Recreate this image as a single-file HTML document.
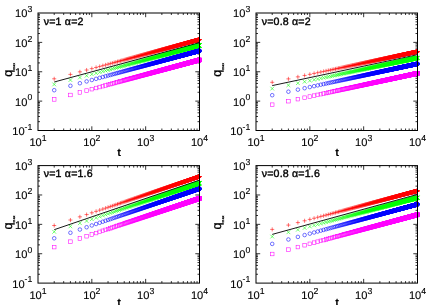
<!DOCTYPE html>
<html><head><meta charset="utf-8"><title>plot</title>
<style>html,body{margin:0;padding:0;background:#fff;overflow:hidden}svg{display:block;filter:blur(0.3px);font-family:"Liberation Sans",sans-serif}text{stroke:#000;stroke-width:0.12px}</style></head>
<body>
<svg width="436" height="305" viewBox="0 0 436 305" text-rendering="geometricPrecision">
<rect width="436" height="305" fill="#fff"/>
<defs>
<marker id="mp" markerWidth="8" markerHeight="8" refX="4" refY="4" markerUnits="userSpaceOnUse" overflow="visible"><g transform="translate(4 4)"><path d="M-2.05 0H2.05M0 -2.05V2.05" stroke="#f00" stroke-width="0.55" fill="none"/></g></marker>
<marker id="mx" markerWidth="8" markerHeight="8" refX="4" refY="4" markerUnits="userSpaceOnUse" overflow="visible"><g transform="translate(4 4)"><path d="M-1.85 -1.85L1.85 1.85M-1.85 1.85L1.85 -1.85" stroke="#0f0" stroke-width="0.55" fill="none"/></g></marker>
<marker id="mo" markerWidth="8" markerHeight="8" refX="4" refY="4" markerUnits="userSpaceOnUse" overflow="visible"><g transform="translate(4 4)"><circle r="1.8" stroke="#00f" stroke-width="0.55" fill="none"/></g></marker>
<marker id="ms" markerWidth="8" markerHeight="8" refX="4" refY="4" markerUnits="userSpaceOnUse" overflow="visible"><g transform="translate(4 4)"><rect x="-1.8" y="-1.8" width="3.6" height="3.6" stroke="#f0f" stroke-width="0.55" fill="none"/></g></marker>
</defs>
<g>
<path d="M54.21 130.5v-2M54.21 13v2M63.69 130.5v-2M63.69 13v2M70.41 130.5v-2M70.41 13v2M75.63 130.5v-2M75.63 13v2M79.89 130.5v-2M79.89 13v2M83.49 130.5v-2M83.49 13v2M86.62 130.5v-2M86.62 13v2M89.37 130.5v-2M89.37 13v2M91.83 130.5v-4.2M91.83 13v4.2M108.04 130.5v-2M108.04 13v2M117.52 130.5v-2M117.52 13v2M124.24 130.5v-2M124.24 13v2M129.46 130.5v-2M129.46 13v2M133.72 130.5v-2M133.72 13v2M137.33 130.5v-2M137.33 13v2M140.45 130.5v-2M140.45 13v2M143.2 130.5v-2M143.2 13v2M145.67 130.5v-4.2M145.67 13v4.2M161.87 130.5v-2M161.87 13v2M171.35 130.5v-2M171.35 13v2M178.08 130.5v-2M178.08 13v2M183.29 130.5v-2M183.29 13v2M187.56 130.5v-2M187.56 13v2M191.16 130.5v-2M191.16 13v2M194.28 130.5v-2M194.28 13v2M197.04 130.5v-2M197.04 13v2M38 121.66h2M199.5 121.66h-2M38 116.48h2M199.5 116.48h-2M38 112.81h2M199.5 112.81h-2M38 109.97h2M199.5 109.97h-2M38 107.64h2M199.5 107.64h-2M38 105.68h2M199.5 105.68h-2M38 103.97h2M199.5 103.97h-2M38 102.47h2M199.5 102.47h-2M38 101.12h4.2M199.5 101.12h-4.2M38 92.28h2M199.5 92.28h-2M38 87.11h2M199.5 87.11h-2M38 83.44h2M199.5 83.44h-2M38 80.59h2M199.5 80.59h-2M38 78.27h2M199.5 78.27h-2M38 76.3h2M199.5 76.3h-2M38 74.6h2M199.5 74.6h-2M38 73.09h2M199.5 73.09h-2M38 71.75h4.2M199.5 71.75h-4.2M38 62.91h2M199.5 62.91h-2M38 57.73h2M199.5 57.73h-2M38 54.06h2M199.5 54.06h-2M38 51.22h2M199.5 51.22h-2M38 48.89h2M199.5 48.89h-2M38 46.93h2M199.5 46.93h-2M38 45.22h2M199.5 45.22h-2M38 43.72h2M199.5 43.72h-2M38 42.38h4.2M199.5 42.38h-4.2M38 33.53h2M199.5 33.53h-2M38 28.36h2M199.5 28.36h-2M38 24.69h2M199.5 24.69h-2M38 21.84h2M199.5 21.84h-2M38 19.52h2M199.5 19.52h-2M38 17.55h2M199.5 17.55h-2M38 15.85h2M199.5 15.85h-2M38 14.34h2M199.5 14.34h-2" stroke="#000" stroke-width="0.8" fill="none"/>
<polyline points="54.21,78.8 70.41,74.42 79.89,71.85 86.62,70.03 91.83,68.62 96.1,67.47 99.7,66.49 102.82,65.65 105.58,64.91 108.04,64.24 110.27,63.64 112.3,63.09 114.17,62.58 115.91,62.11 117.52,61.67 119.03,61.27 120.44,60.88 121.78,60.52 123.05,60.18 124.24,59.86 125.38,59.55 126.47,59.25 127.51,58.97 128.51,58.7 129.46,58.44 130.38,58.2 131.26,57.96 132.11,57.73 132.93,57.51 133.72,57.29 134.49,57.08 135.23,56.88 135.95,56.69 136.65,56.5 137.33,56.32 137.99,56.14 138.63,55.97 139.25,55.8 139.86,55.63 140.45,55.47 141.03,55.32 141.59,55.16 142.14,55.01 142.68,54.87 143.2,54.73 143.72,54.59 144.22,54.45 144.71,54.32 145.19,54.19 145.67,54.06 146.13,53.94 146.58,53.81 147.03,53.69 147.47,53.57 147.89,53.46 148.32,53.34 148.73,53.23 149.14,53.12 149.54,53.01 149.93,52.91 150.32,52.8 150.7,52.7 151.07,52.6 151.44,52.5 151.8,52.4 152.16,52.31 152.51,52.21 152.86,52.12 153.2,52.02 153.53,51.93 153.86,51.84 154.19,51.76 154.51,51.67 154.83,51.58 155.15,51.5 155.46,51.41 155.76,51.33 156.06,51.25 156.36,51.17 156.66,51.09 156.95,51.01 157.23,50.93 157.52,50.86 157.8,50.78 158.07,50.71 158.35,50.63 158.62,50.56 158.88,50.49 159.15,50.41 159.41,50.34 159.67,50.27 159.92,50.21 160.18,50.14 160.43,50.07 160.67,50 160.92,49.94 161.16,49.87 161.4,49.81 161.64,49.74 161.87,49.68 162.1,49.61 162.34,49.55 162.56,49.49 162.79,49.43 163.01,49.37 163.23,49.31 163.45,49.25 163.67,49.19 163.89,49.13 164.1,49.08 164.31,49.02 164.52,48.96 164.73,48.9 164.94,48.85 165.14,48.79 165.34,48.74 165.54,48.68 165.74,48.63 165.94,48.58 166.13,48.52 166.33,48.47 166.52,48.42 166.71,48.37 166.9,48.32 167.09,48.27 167.28,48.22 167.46,48.17 167.64,48.12 167.83,48.07 168.01,48.02 168.19,47.97 168.36,47.92 168.54,47.87 168.71,47.83 168.89,47.78 169.06,47.73 169.23,47.69 169.4,47.64 169.57,47.6 169.74,47.55 169.91,47.5 170.07,47.46 170.23,47.42 170.4,47.37 170.56,47.33 170.72,47.28 170.88,47.24 171.04,47.2 171.2,47.16 171.35,47.11 171.51,47.07 171.66,47.03 171.81,46.99 171.97,46.95 172.12,46.91 172.27,46.87 172.42,46.83 172.57,46.79 172.71,46.75 172.86,46.71 173.01,46.67 173.15,46.63 173.29,46.59 173.44,46.55 173.58,46.51 173.72,46.47 173.86,46.43 174,46.4 174.14,46.36 174.28,46.32 174.42,46.29 174.55,46.25 174.69,46.21 174.82,46.18 174.96,46.14 175.09,46.1 175.22,46.07 175.35,46.03 175.48,46 175.61,45.96 175.74,45.93 175.87,45.89 176,45.86 176.13,45.82 176.25,45.79 176.38,45.75 176.51,45.72 176.63,45.69 176.75,45.65 176.88,45.62 177,45.59 177.12,45.55 177.24,45.52 177.37,45.49 177.49,45.45 177.61,45.42 177.72,45.39 177.84,45.36 177.96,45.33 178.08,45.29 178.19,45.26 178.31,45.23 178.43,45.2 178.54,45.17 178.65,45.14 178.77,45.11 178.88,45.08 178.99,45.05 179.11,45.02 179.22,44.99 179.33,44.96 179.44,44.93 179.55,44.9 179.66,44.87 179.77,44.84 179.88,44.81 179.98,44.78 180.09,44.75 180.2,44.72 180.31,44.69 180.41,44.66 180.52,44.63 180.62,44.61 180.73,44.58 180.83,44.55 180.93,44.52 181.04,44.49 181.14,44.47 181.24,44.44 181.35,44.41 181.45,44.38 181.55,44.36 181.65,44.33 181.75,44.3 181.85,44.27 181.95,44.25 182.05,44.22 182.14,44.19 182.24,44.17 182.34,44.14 182.44,44.12 182.53,44.09 182.63,44.06 182.73,44.04 182.82,44.01 182.92,43.99 183.01,43.96 183.11,43.93 183.2,43.91 183.29,43.88 183.39,43.86 183.48,43.83 183.57,43.81 183.67,43.78 183.76,43.76 183.85,43.73 183.94,43.71 184.03,43.68 184.12,43.66 184.21,43.64 184.3,43.61 184.39,43.59 184.48,43.56 184.57,43.54 184.66,43.51 184.74,43.49 184.83,43.47 184.92,43.44 185.01,43.42 185.09,43.4 185.18,43.37 185.27,43.35 185.35,43.33 185.44,43.3 185.52,43.28 185.61,43.26 185.69,43.23 185.78,43.21 185.86,43.19 185.94,43.17 186.03,43.14 186.11,43.12 186.19,43.1 186.28,43.08 186.36,43.05 186.44,43.03 186.52,43.01 186.6,42.99 186.68,42.97 186.76,42.94 186.85,42.92 186.93,42.9 187.01,42.88 187.08,42.86 187.16,42.84 187.24,42.82 187.32,42.79 187.4,42.77 187.48,42.75 187.56,42.73 187.63,42.71 187.71,42.69 187.79,42.67 187.87,42.65 187.94,42.63 188.02,42.61 188.1,42.58 188.17,42.56 188.25,42.54 188.32,42.52 188.4,42.5 188.47,42.48 188.55,42.46 188.62,42.44 188.7,42.42 188.77,42.4 188.85,42.38 188.92,42.36 188.99,42.34 189.07,42.32 189.14,42.3 189.21,42.28 189.28,42.26 189.36,42.24 189.43,42.22 189.5,42.2 189.57,42.19 189.64,42.17 189.71,42.15 189.79,42.13 189.86,42.11 189.93,42.09 190,42.07 190.07,42.05 190.14,42.03 190.21,42.01 190.28,41.99 190.35,41.98 190.41,41.96 190.48,41.94 190.55,41.92 190.62,41.9 190.69,41.88 190.76,41.86 190.82,41.85 190.89,41.83 190.96,41.81 191.03,41.79 191.09,41.77 191.16,41.76 191.23,41.74 191.29,41.72 191.36,41.7 191.43,41.68 191.49,41.67 191.56,41.65 191.62,41.63 191.69,41.61 191.75,41.59 191.82,41.58 191.88,41.56 191.95,41.54 192.01,41.52 192.08,41.51 192.14,41.49 192.21,41.47 192.27,41.46 192.33,41.44 192.4,41.42 192.46,41.4 192.52,41.39 192.59,41.37 192.65,41.35 192.71,41.34 192.77,41.32 192.84,41.3 192.9,41.29 192.96,41.27 193.02,41.25 193.08,41.24 193.15,41.22 193.21,41.2 193.27,41.19 193.33,41.17 193.39,41.15 193.45,41.14 193.51,41.12 193.57,41.1 193.63,41.09 193.69,41.07 193.75,41.06 193.81,41.04 193.87,41.02 193.93,41.01 193.99,40.99 194.05,40.97 194.11,40.96 194.17,40.94 194.22,40.93 194.28,40.91 194.34,40.9 194.4,40.88 194.46,40.86 194.52,40.85 194.57,40.83 194.63,40.82 194.69,40.8 194.75,40.79 194.8,40.77 194.86,40.75 194.92,40.74 194.97,40.72 195.03,40.71 195.09,40.69 195.14,40.68 195.2,40.66 195.26,40.65 195.31,40.63 195.37,40.62 195.42,40.6 195.48,40.59 195.53,40.57 195.59,40.56 195.65,40.54 195.7,40.53 195.76,40.51 195.81,40.5 195.86,40.48 195.92,40.47 195.97,40.45 196.03,40.44 196.08,40.42 196.14,40.41 196.19,40.4 196.24,40.38 196.3,40.37 196.35,40.35 196.4,40.34 196.46,40.32 196.51,40.31 196.56,40.29 196.62,40.28 196.67,40.27 196.72,40.25 196.78,40.24 196.83,40.22 196.88,40.21 196.93,40.19 196.98,40.18 197.04,40.17 197.09,40.15 197.14,40.14 197.19,40.12 197.24,40.11 197.3,40.1 197.35,40.08 197.4,40.07 197.45,40.05 197.5,40.04 197.55,40.03 197.6,40.01 197.65,40 197.7,39.99 197.75,39.97 197.8,39.96 197.85,39.95 197.9,39.93 197.95,39.92 198,39.9 198.05,39.89 198.1,39.88 198.15,39.86 198.2,39.85 198.25,39.84 198.3,39.82 198.35,39.81 198.4,39.8 198.45,39.78 198.5,39.77 198.55,39.76 198.59,39.74 198.64,39.73 198.69,39.72 198.74,39.71 198.79,39.69 198.84,39.68 198.88,39.67 198.93,39.65 198.98,39.64 199.03,39.63 199.08,39.61 199.12,39.6 199.17,39.59 199.22,39.58 199.27,39.56 199.31,39.55 199.36,39.54 199.41,39.53 199.45,39.51 199.5,39.5" fill="none" stroke="none" marker-start="url(#mp)" marker-mid="url(#mp)" marker-end="url(#mp)"/>
<polyline points="54.21,84.4 70.41,80.05 79.89,77.51 86.62,75.7 91.83,74.3 96.1,73.16 99.7,72.19 102.82,71.35 105.58,70.61 108.04,69.95 110.27,69.35 112.3,68.81 114.17,68.3 115.91,67.84 117.52,67.41 119.03,67 120.44,66.62 121.78,66.26 123.05,65.92 124.24,65.6 125.38,65.29 126.47,65 127.51,64.72 128.51,64.46 129.46,64.2 130.38,63.95 131.26,63.72 132.11,63.49 132.93,63.27 133.72,63.06 134.49,62.85 135.23,62.65 135.95,62.46 136.65,62.27 137.33,62.09 137.99,61.91 138.63,61.74 139.25,61.57 139.86,61.41 140.45,61.25 141.03,61.1 141.59,60.94 142.14,60.8 142.68,60.65 143.2,60.51 143.72,60.37 144.22,60.24 144.71,60.11 145.19,59.98 145.67,59.85 146.13,59.73 146.58,59.6 147.03,59.48 147.47,59.37 147.89,59.25 148.32,59.14 148.73,59.03 149.14,58.92 149.54,58.81 149.93,58.71 150.32,58.6 150.7,58.5 151.07,58.4 151.44,58.3 151.8,58.2 152.16,58.11 152.51,58.01 152.86,57.92 153.2,57.83 153.53,57.74 153.86,57.65 154.19,57.56 154.51,57.48 154.83,57.39 155.15,57.31 155.46,57.22 155.76,57.14 156.06,57.06 156.36,56.98 156.66,56.9 156.95,56.82 157.23,56.75 157.52,56.67 157.8,56.59 158.07,56.52 158.35,56.45 158.62,56.37 158.88,56.3 159.15,56.23 159.41,56.16 159.67,56.09 159.92,56.02 160.18,55.96 160.43,55.89 160.67,55.82 160.92,55.76 161.16,55.69 161.4,55.63 161.64,55.56 161.87,55.5 162.1,55.44 162.34,55.38 162.56,55.31 162.79,55.25 163.01,55.19 163.23,55.13 163.45,55.08 163.67,55.02 163.89,54.96 164.1,54.9 164.31,54.85 164.52,54.79 164.73,54.73 164.94,54.68 165.14,54.62 165.34,54.57 165.54,54.51 165.74,54.46 165.94,54.41 166.13,54.36 166.33,54.3 166.52,54.25 166.71,54.2 166.9,54.15 167.09,54.1 167.28,54.05 167.46,54 167.64,53.95 167.83,53.9 168.01,53.85 168.19,53.81 168.36,53.76 168.54,53.71 168.71,53.66 168.89,53.62 169.06,53.57 169.23,53.52 169.4,53.48 169.57,53.43 169.74,53.39 169.91,53.34 170.07,53.3 170.23,53.26 170.4,53.21 170.56,53.17 170.72,53.13 170.88,53.08 171.04,53.04 171.2,53 171.35,52.96 171.51,52.91 171.66,52.87 171.81,52.83 171.97,52.79 172.12,52.75 172.27,52.71 172.42,52.67 172.57,52.63 172.71,52.59 172.86,52.55 173.01,52.51 173.15,52.47 173.29,52.43 173.44,52.4 173.58,52.36 173.72,52.32 173.86,52.28 174,52.24 174.14,52.21 174.28,52.17 174.42,52.13 174.55,52.1 174.69,52.06 174.82,52.02 174.96,51.99 175.09,51.95 175.22,51.92 175.35,51.88 175.48,51.85 175.61,51.81 175.74,51.78 175.87,51.74 176,51.71 176.13,51.67 176.25,51.64 176.38,51.61 176.51,51.57 176.63,51.54 176.75,51.51 176.88,51.47 177,51.44 177.12,51.41 177.24,51.37 177.37,51.34 177.49,51.31 177.61,51.28 177.72,51.25 177.84,51.21 177.96,51.18 178.08,51.15 178.19,51.12 178.31,51.09 178.43,51.06 178.54,51.03 178.65,51 178.77,50.96 178.88,50.93 178.99,50.9 179.11,50.87 179.22,50.84 179.33,50.81 179.44,50.78 179.55,50.76 179.66,50.73 179.77,50.7 179.88,50.67 179.98,50.64 180.09,50.61 180.2,50.58 180.31,50.55 180.41,50.52 180.52,50.5 180.62,50.47 180.73,50.44 180.83,50.41 180.93,50.38 181.04,50.36 181.14,50.33 181.24,50.3 181.35,50.27 181.45,50.25 181.55,50.22 181.65,50.19 181.75,50.16 181.85,50.14 181.95,50.11 182.05,50.08 182.14,50.06 182.24,50.03 182.34,50.01 182.44,49.98 182.53,49.95 182.63,49.93 182.73,49.9 182.82,49.88 182.92,49.85 183.01,49.83 183.11,49.8 183.2,49.78 183.29,49.75 183.39,49.72 183.48,49.7 183.57,49.68 183.67,49.65 183.76,49.63 183.85,49.6 183.94,49.58 184.03,49.55 184.12,49.53 184.21,49.5 184.3,49.48 184.39,49.46 184.48,49.43 184.57,49.41 184.66,49.38 184.74,49.36 184.83,49.34 184.92,49.31 185.01,49.29 185.09,49.27 185.18,49.24 185.27,49.22 185.35,49.2 185.44,49.17 185.52,49.15 185.61,49.13 185.69,49.11 185.78,49.08 185.86,49.06 185.94,49.04 186.03,49.02 186.11,48.99 186.19,48.97 186.28,48.95 186.36,48.93 186.44,48.91 186.52,48.88 186.6,48.86 186.68,48.84 186.76,48.82 186.85,48.8 186.93,48.78 187.01,48.75 187.08,48.73 187.16,48.71 187.24,48.69 187.32,48.67 187.4,48.65 187.48,48.63 187.56,48.61 187.63,48.58 187.71,48.56 187.79,48.54 187.87,48.52 187.94,48.5 188.02,48.48 188.1,48.46 188.17,48.44 188.25,48.42 188.32,48.4 188.4,48.38 188.47,48.36 188.55,48.34 188.62,48.32 188.7,48.3 188.77,48.28 188.85,48.26 188.92,48.24 188.99,48.22 189.07,48.2 189.14,48.18 189.21,48.16 189.28,48.14 189.36,48.12 189.43,48.1 189.5,48.08 189.57,48.06 189.64,48.05 189.71,48.03 189.79,48.01 189.86,47.99 189.93,47.97 190,47.95 190.07,47.93 190.14,47.91 190.21,47.89 190.28,47.88 190.35,47.86 190.41,47.84 190.48,47.82 190.55,47.8 190.62,47.78 190.69,47.77 190.76,47.75 190.82,47.73 190.89,47.71 190.96,47.69 191.03,47.67 191.09,47.66 191.16,47.64 191.23,47.62 191.29,47.6 191.36,47.58 191.43,47.57 191.49,47.55 191.56,47.53 191.62,47.51 191.69,47.5 191.75,47.48 191.82,47.46 191.88,47.44 191.95,47.43 192.01,47.41 192.08,47.39 192.14,47.37 192.21,47.36 192.27,47.34 192.33,47.32 192.4,47.31 192.46,47.29 192.52,47.27 192.59,47.26 192.65,47.24 192.71,47.22 192.77,47.21 192.84,47.19 192.9,47.17 192.96,47.16 193.02,47.14 193.08,47.12 193.15,47.11 193.21,47.09 193.27,47.07 193.33,47.06 193.39,47.04 193.45,47.02 193.51,47.01 193.57,46.99 193.63,46.98 193.69,46.96 193.75,46.94 193.81,46.93 193.87,46.91 193.93,46.9 193.99,46.88 194.05,46.86 194.11,46.85 194.17,46.83 194.22,46.82 194.28,46.8 194.34,46.78 194.4,46.77 194.46,46.75 194.52,46.74 194.57,46.72 194.63,46.71 194.69,46.69 194.75,46.68 194.8,46.66 194.86,46.65 194.92,46.63 194.97,46.61 195.03,46.6 195.09,46.58 195.14,46.57 195.2,46.55 195.26,46.54 195.31,46.52 195.37,46.51 195.42,46.49 195.48,46.48 195.53,46.46 195.59,46.45 195.65,46.43 195.7,46.42 195.76,46.41 195.81,46.39 195.86,46.38 195.92,46.36 195.97,46.35 196.03,46.33 196.08,46.32 196.14,46.3 196.19,46.29 196.24,46.27 196.3,46.26 196.35,46.25 196.4,46.23 196.46,46.22 196.51,46.2 196.56,46.19 196.62,46.17 196.67,46.16 196.72,46.15 196.78,46.13 196.83,46.12 196.88,46.1 196.93,46.09 196.98,46.08 197.04,46.06 197.09,46.05 197.14,46.03 197.19,46.02 197.24,46.01 197.3,45.99 197.35,45.98 197.4,45.96 197.45,45.95 197.5,45.94 197.55,45.92 197.6,45.91 197.65,45.9 197.7,45.88 197.75,45.87 197.8,45.86 197.85,45.84 197.9,45.83 197.95,45.82 198,45.8 198.05,45.79 198.1,45.77 198.15,45.76 198.2,45.75 198.25,45.74 198.3,45.72 198.35,45.71 198.4,45.7 198.45,45.68 198.5,45.67 198.55,45.66 198.59,45.64 198.64,45.63 198.69,45.62 198.74,45.6 198.79,45.59 198.84,45.58 198.88,45.57 198.93,45.55 198.98,45.54 199.03,45.53 199.08,45.51 199.12,45.5 199.17,45.49 199.22,45.48 199.27,45.46 199.31,45.45 199.36,45.44 199.41,45.43 199.45,45.41 199.5,45.4" fill="none" stroke="none" marker-start="url(#mx)" marker-mid="url(#mx)" marker-end="url(#mx)"/>
<polyline points="54.21,90.2 70.41,85.81 79.89,83.23 86.62,81.41 91.83,80 96.1,78.84 99.7,77.86 102.82,77.02 105.58,76.27 108.04,75.6 110.27,75 112.3,74.45 114.17,73.94 115.91,73.47 117.52,73.03 119.03,72.62 120.44,72.24 121.78,71.88 123.05,71.53 124.24,71.21 125.38,70.9 126.47,70.6 127.51,70.32 128.51,70.05 129.46,69.79 130.38,69.54 131.26,69.3 132.11,69.07 132.93,68.85 133.72,68.64 134.49,68.43 135.23,68.23 135.95,68.03 136.65,67.84 137.33,67.66 137.99,67.48 138.63,67.31 139.25,67.14 139.86,66.97 140.45,66.81 141.03,66.66 141.59,66.5 142.14,66.35 142.68,66.21 143.2,66.07 143.72,65.93 144.22,65.79 144.71,65.66 145.19,65.53 145.67,65.4 146.13,65.27 146.58,65.15 147.03,65.03 147.47,64.91 147.89,64.79 148.32,64.68 148.73,64.57 149.14,64.46 149.54,64.35 149.93,64.24 150.32,64.14 150.7,64.03 151.07,63.93 151.44,63.83 151.8,63.73 152.16,63.64 152.51,63.54 152.86,63.45 153.2,63.36 153.53,63.26 153.86,63.18 154.19,63.09 154.51,63 154.83,62.91 155.15,62.83 155.46,62.74 155.76,62.66 156.06,62.58 156.36,62.5 156.66,62.42 156.95,62.34 157.23,62.26 157.52,62.18 157.8,62.11 158.07,62.03 158.35,61.96 158.62,61.89 158.88,61.81 159.15,61.74 159.41,61.67 159.67,61.6 159.92,61.53 160.18,61.46 160.43,61.4 160.67,61.33 160.92,61.26 161.16,61.2 161.4,61.13 161.64,61.07 161.87,61 162.1,60.94 162.34,60.88 162.56,60.82 162.79,60.76 163.01,60.69 163.23,60.63 163.45,60.57 163.67,60.52 163.89,60.46 164.1,60.4 164.31,60.34 164.52,60.29 164.73,60.23 164.94,60.17 165.14,60.12 165.34,60.06 165.54,60.01 165.74,59.95 165.94,59.9 166.13,59.85 166.33,59.8 166.52,59.74 166.71,59.69 166.9,59.64 167.09,59.59 167.28,59.54 167.46,59.49 167.64,59.44 167.83,59.39 168.01,59.34 168.19,59.29 168.36,59.24 168.54,59.2 168.71,59.15 168.89,59.1 169.06,59.05 169.23,59.01 169.4,58.96 169.57,58.92 169.74,58.87 169.91,58.83 170.07,58.78 170.23,58.74 170.4,58.69 170.56,58.65 170.72,58.6 170.88,58.56 171.04,58.52 171.2,58.48 171.35,58.43 171.51,58.39 171.66,58.35 171.81,58.31 171.97,58.27 172.12,58.23 172.27,58.18 172.42,58.14 172.57,58.1 172.71,58.06 172.86,58.02 173.01,57.98 173.15,57.95 173.29,57.91 173.44,57.87 173.58,57.83 173.72,57.79 173.86,57.75 174,57.71 174.14,57.68 174.28,57.64 174.42,57.6 174.55,57.57 174.69,57.53 174.82,57.49 174.96,57.46 175.09,57.42 175.22,57.38 175.35,57.35 175.48,57.31 175.61,57.28 175.74,57.24 175.87,57.21 176,57.17 176.13,57.14 176.25,57.1 176.38,57.07 176.51,57.04 176.63,57 176.75,56.97 176.88,56.93 177,56.9 177.12,56.87 177.24,56.84 177.37,56.8 177.49,56.77 177.61,56.74 177.72,56.71 177.84,56.67 177.96,56.64 178.08,56.61 178.19,56.58 178.31,56.55 178.43,56.51 178.54,56.48 178.65,56.45 178.77,56.42 178.88,56.39 178.99,56.36 179.11,56.33 179.22,56.3 179.33,56.27 179.44,56.24 179.55,56.21 179.66,56.18 179.77,56.15 179.88,56.12 179.98,56.09 180.09,56.06 180.2,56.03 180.31,56 180.41,55.98 180.52,55.95 180.62,55.92 180.73,55.89 180.83,55.86 180.93,55.83 181.04,55.81 181.14,55.78 181.24,55.75 181.35,55.72 181.45,55.7 181.55,55.67 181.65,55.64 181.75,55.61 181.85,55.59 181.95,55.56 182.05,55.53 182.14,55.51 182.24,55.48 182.34,55.45 182.44,55.43 182.53,55.4 182.63,55.37 182.73,55.35 182.82,55.32 182.92,55.3 183.01,55.27 183.11,55.25 183.2,55.22 183.29,55.19 183.39,55.17 183.48,55.14 183.57,55.12 183.67,55.09 183.76,55.07 183.85,55.04 183.94,55.02 184.03,54.99 184.12,54.97 184.21,54.95 184.3,54.92 184.39,54.9 184.48,54.87 184.57,54.85 184.66,54.83 184.74,54.8 184.83,54.78 184.92,54.75 185.01,54.73 185.09,54.71 185.18,54.68 185.27,54.66 185.35,54.64 185.44,54.61 185.52,54.59 185.61,54.57 185.69,54.54 185.78,54.52 185.86,54.5 185.94,54.48 186.03,54.45 186.11,54.43 186.19,54.41 186.28,54.39 186.36,54.36 186.44,54.34 186.52,54.32 186.6,54.3 186.68,54.28 186.76,54.25 186.85,54.23 186.93,54.21 187.01,54.19 187.08,54.17 187.16,54.15 187.24,54.12 187.32,54.1 187.4,54.08 187.48,54.06 187.56,54.04 187.63,54.02 187.71,54 187.79,53.98 187.87,53.95 187.94,53.93 188.02,53.91 188.1,53.89 188.17,53.87 188.25,53.85 188.32,53.83 188.4,53.81 188.47,53.79 188.55,53.77 188.62,53.75 188.7,53.73 188.77,53.71 188.85,53.69 188.92,53.67 188.99,53.65 189.07,53.63 189.14,53.61 189.21,53.59 189.28,53.57 189.36,53.55 189.43,53.53 189.5,53.51 189.57,53.49 189.64,53.47 189.71,53.45 189.79,53.43 189.86,53.42 189.93,53.4 190,53.38 190.07,53.36 190.14,53.34 190.21,53.32 190.28,53.3 190.35,53.28 190.41,53.26 190.48,53.25 190.55,53.23 190.62,53.21 190.69,53.19 190.76,53.17 190.82,53.15 190.89,53.13 190.96,53.12 191.03,53.1 191.09,53.08 191.16,53.06 191.23,53.04 191.29,53.03 191.36,53.01 191.43,52.99 191.49,52.97 191.56,52.95 191.62,52.94 191.69,52.92 191.75,52.9 191.82,52.88 191.88,52.87 191.95,52.85 192.01,52.83 192.08,52.81 192.14,52.8 192.21,52.78 192.27,52.76 192.33,52.74 192.4,52.73 192.46,52.71 192.52,52.69 192.59,52.67 192.65,52.66 192.71,52.64 192.77,52.62 192.84,52.61 192.9,52.59 192.96,52.57 193.02,52.56 193.08,52.54 193.15,52.52 193.21,52.51 193.27,52.49 193.33,52.47 193.39,52.46 193.45,52.44 193.51,52.42 193.57,52.41 193.63,52.39 193.69,52.38 193.75,52.36 193.81,52.34 193.87,52.33 193.93,52.31 193.99,52.29 194.05,52.28 194.11,52.26 194.17,52.25 194.22,52.23 194.28,52.21 194.34,52.2 194.4,52.18 194.46,52.17 194.52,52.15 194.57,52.14 194.63,52.12 194.69,52.1 194.75,52.09 194.8,52.07 194.86,52.06 194.92,52.04 194.97,52.03 195.03,52.01 195.09,52 195.14,51.98 195.2,51.97 195.26,51.95 195.31,51.94 195.37,51.92 195.42,51.91 195.48,51.89 195.53,51.88 195.59,51.86 195.65,51.85 195.7,51.83 195.76,51.82 195.81,51.8 195.86,51.79 195.92,51.77 195.97,51.76 196.03,51.74 196.08,51.73 196.14,51.71 196.19,51.7 196.24,51.68 196.3,51.67 196.35,51.65 196.4,51.64 196.46,51.62 196.51,51.61 196.56,51.6 196.62,51.58 196.67,51.57 196.72,51.55 196.78,51.54 196.83,51.52 196.88,51.51 196.93,51.5 196.98,51.48 197.04,51.47 197.09,51.45 197.14,51.44 197.19,51.43 197.24,51.41 197.3,51.4 197.35,51.38 197.4,51.37 197.45,51.36 197.5,51.34 197.55,51.33 197.6,51.31 197.65,51.3 197.7,51.29 197.75,51.27 197.8,51.26 197.85,51.25 197.9,51.23 197.95,51.22 198,51.21 198.05,51.19 198.1,51.18 198.15,51.17 198.2,51.15 198.25,51.14 198.3,51.13 198.35,51.11 198.4,51.1 198.45,51.09 198.5,51.07 198.55,51.06 198.59,51.05 198.64,51.03 198.69,51.02 198.74,51.01 198.79,50.99 198.84,50.98 198.88,50.97 198.93,50.95 198.98,50.94 199.03,50.93 199.08,50.92 199.12,50.9 199.17,50.89 199.22,50.88 199.27,50.86 199.31,50.85 199.36,50.84 199.41,50.83 199.45,50.81 199.5,50.8" fill="none" stroke="none" marker-start="url(#mo)" marker-mid="url(#mo)" marker-end="url(#mo)"/>
<polyline points="54.21,99.4 70.41,94.99 79.89,92.42 86.62,90.59 91.83,89.17 96.1,88.01 99.7,87.03 102.82,86.18 105.58,85.43 108.04,84.76 110.27,84.16 112.3,83.61 114.17,83.1 115.91,82.63 117.52,82.19 119.03,81.78 120.44,81.39 121.78,81.03 123.05,80.69 124.24,80.36 125.38,80.05 126.47,79.75 127.51,79.47 128.51,79.2 129.46,78.94 130.38,78.69 131.26,78.45 132.11,78.22 132.93,78 133.72,77.78 134.49,77.57 135.23,77.37 135.95,77.18 136.65,76.99 137.33,76.8 137.99,76.62 138.63,76.45 139.25,76.28 139.86,76.11 140.45,75.95 141.03,75.8 141.59,75.64 142.14,75.49 142.68,75.35 143.2,75.2 143.72,75.07 144.22,74.93 144.71,74.79 145.19,74.66 145.67,74.54 146.13,74.41 146.58,74.29 147.03,74.16 147.47,74.05 147.89,73.93 148.32,73.81 148.73,73.7 149.14,73.59 149.54,73.48 149.93,73.38 150.32,73.27 150.7,73.17 151.07,73.07 151.44,72.97 151.8,72.87 152.16,72.77 152.51,72.68 152.86,72.58 153.2,72.49 153.53,72.4 153.86,72.31 154.19,72.22 154.51,72.13 154.83,72.04 155.15,71.96 155.46,71.87 155.76,71.79 156.06,71.71 156.36,71.63 156.66,71.55 156.95,71.47 157.23,71.39 157.52,71.31 157.8,71.24 158.07,71.16 158.35,71.09 158.62,71.01 158.88,70.94 159.15,70.87 159.41,70.8 159.67,70.73 159.92,70.66 160.18,70.59 160.43,70.52 160.67,70.46 160.92,70.39 161.16,70.32 161.4,70.26 161.64,70.19 161.87,70.13 162.1,70.07 162.34,70 162.56,69.94 162.79,69.88 163.01,69.82 163.23,69.76 163.45,69.7 163.67,69.64 163.89,69.58 164.1,69.52 164.31,69.47 164.52,69.41 164.73,69.35 164.94,69.3 165.14,69.24 165.34,69.19 165.54,69.13 165.74,69.08 165.94,69.02 166.13,68.97 166.33,68.92 166.52,68.87 166.71,68.81 166.9,68.76 167.09,68.71 167.28,68.66 167.46,68.61 167.64,68.56 167.83,68.51 168.01,68.46 168.19,68.41 168.36,68.36 168.54,68.32 168.71,68.27 168.89,68.22 169.06,68.18 169.23,68.13 169.4,68.08 169.57,68.04 169.74,67.99 169.91,67.95 170.07,67.9 170.23,67.86 170.4,67.81 170.56,67.77 170.72,67.72 170.88,67.68 171.04,67.64 171.2,67.59 171.35,67.55 171.51,67.51 171.66,67.47 171.81,67.43 171.97,67.39 172.12,67.34 172.27,67.3 172.42,67.26 172.57,67.22 172.71,67.18 172.86,67.14 173.01,67.1 173.15,67.06 173.29,67.02 173.44,66.99 173.58,66.95 173.72,66.91 173.86,66.87 174,66.83 174.14,66.79 174.28,66.76 174.42,66.72 174.55,66.68 174.69,66.65 174.82,66.61 174.96,66.57 175.09,66.54 175.22,66.5 175.35,66.46 175.48,66.43 175.61,66.39 175.74,66.36 175.87,66.32 176,66.29 176.13,66.25 176.25,66.22 176.38,66.19 176.51,66.15 176.63,66.12 176.75,66.08 176.88,66.05 177,66.02 177.12,65.98 177.24,65.95 177.37,65.92 177.49,65.88 177.61,65.85 177.72,65.82 177.84,65.79 177.96,65.76 178.08,65.72 178.19,65.69 178.31,65.66 178.43,65.63 178.54,65.6 178.65,65.57 178.77,65.54 178.88,65.51 178.99,65.47 179.11,65.44 179.22,65.41 179.33,65.38 179.44,65.35 179.55,65.32 179.66,65.29 179.77,65.26 179.88,65.23 179.98,65.21 180.09,65.18 180.2,65.15 180.31,65.12 180.41,65.09 180.52,65.06 180.62,65.03 180.73,65 180.83,64.98 180.93,64.95 181.04,64.92 181.14,64.89 181.24,64.86 181.35,64.84 181.45,64.81 181.55,64.78 181.65,64.75 181.75,64.73 181.85,64.7 181.95,64.67 182.05,64.65 182.14,64.62 182.24,64.59 182.34,64.57 182.44,64.54 182.53,64.51 182.63,64.49 182.73,64.46 182.82,64.43 182.92,64.41 183.01,64.38 183.11,64.36 183.2,64.33 183.29,64.31 183.39,64.28 183.48,64.25 183.57,64.23 183.67,64.2 183.76,64.18 183.85,64.15 183.94,64.13 184.03,64.11 184.12,64.08 184.21,64.06 184.3,64.03 184.39,64.01 184.48,63.98 184.57,63.96 184.66,63.94 184.74,63.91 184.83,63.89 184.92,63.86 185.01,63.84 185.09,63.82 185.18,63.79 185.27,63.77 185.35,63.75 185.44,63.72 185.52,63.7 185.61,63.68 185.69,63.65 185.78,63.63 185.86,63.61 185.94,63.59 186.03,63.56 186.11,63.54 186.19,63.52 186.28,63.5 186.36,63.47 186.44,63.45 186.52,63.43 186.6,63.41 186.68,63.38 186.76,63.36 186.85,63.34 186.93,63.32 187.01,63.3 187.08,63.28 187.16,63.25 187.24,63.23 187.32,63.21 187.4,63.19 187.48,63.17 187.56,63.15 187.63,63.13 187.71,63.1 187.79,63.08 187.87,63.06 187.94,63.04 188.02,63.02 188.1,63 188.17,62.98 188.25,62.96 188.32,62.94 188.4,62.92 188.47,62.9 188.55,62.88 188.62,62.86 188.7,62.84 188.77,62.82 188.85,62.8 188.92,62.78 188.99,62.76 189.07,62.74 189.14,62.72 189.21,62.7 189.28,62.68 189.36,62.66 189.43,62.64 189.5,62.62 189.57,62.6 189.64,62.58 189.71,62.56 189.79,62.54 189.86,62.52 189.93,62.5 190,62.48 190.07,62.46 190.14,62.45 190.21,62.43 190.28,62.41 190.35,62.39 190.41,62.37 190.48,62.35 190.55,62.33 190.62,62.31 190.69,62.3 190.76,62.28 190.82,62.26 190.89,62.24 190.96,62.22 191.03,62.2 191.09,62.19 191.16,62.17 191.23,62.15 191.29,62.13 191.36,62.11 191.43,62.09 191.49,62.08 191.56,62.06 191.62,62.04 191.69,62.02 191.75,62.01 191.82,61.99 191.88,61.97 191.95,61.95 192.01,61.94 192.08,61.92 192.14,61.9 192.21,61.88 192.27,61.87 192.33,61.85 192.4,61.83 192.46,61.81 192.52,61.8 192.59,61.78 192.65,61.76 192.71,61.75 192.77,61.73 192.84,61.71 192.9,61.69 192.96,61.68 193.02,61.66 193.08,61.64 193.15,61.63 193.21,61.61 193.27,61.59 193.33,61.58 193.39,61.56 193.45,61.54 193.51,61.53 193.57,61.51 193.63,61.5 193.69,61.48 193.75,61.46 193.81,61.45 193.87,61.43 193.93,61.41 193.99,61.4 194.05,61.38 194.11,61.37 194.17,61.35 194.22,61.33 194.28,61.32 194.34,61.3 194.4,61.29 194.46,61.27 194.52,61.26 194.57,61.24 194.63,61.22 194.69,61.21 194.75,61.19 194.8,61.18 194.86,61.16 194.92,61.15 194.97,61.13 195.03,61.12 195.09,61.1 195.14,61.08 195.2,61.07 195.26,61.05 195.31,61.04 195.37,61.02 195.42,61.01 195.48,60.99 195.53,60.98 195.59,60.96 195.65,60.95 195.7,60.93 195.76,60.92 195.81,60.9 195.86,60.89 195.92,60.87 195.97,60.86 196.03,60.84 196.08,60.83 196.14,60.81 196.19,60.8 196.24,60.79 196.3,60.77 196.35,60.76 196.4,60.74 196.46,60.73 196.51,60.71 196.56,60.7 196.62,60.68 196.67,60.67 196.72,60.65 196.78,60.64 196.83,60.63 196.88,60.61 196.93,60.6 196.98,60.58 197.04,60.57 197.09,60.56 197.14,60.54 197.19,60.53 197.24,60.51 197.3,60.5 197.35,60.49 197.4,60.47 197.45,60.46 197.5,60.44 197.55,60.43 197.6,60.42 197.65,60.4 197.7,60.39 197.75,60.37 197.8,60.36 197.85,60.35 197.9,60.33 197.95,60.32 198,60.31 198.05,60.29 198.1,60.28 198.15,60.27 198.2,60.25 198.25,60.24 198.3,60.23 198.35,60.21 198.4,60.2 198.45,60.19 198.5,60.17 198.55,60.16 198.59,60.15 198.64,60.13 198.69,60.12 198.74,60.11 198.79,60.09 198.84,60.08 198.88,60.07 198.93,60.05 198.98,60.04 199.03,60.03 199.08,60.02 199.12,60 199.17,59.99 199.22,59.98 199.27,59.96 199.31,59.95 199.36,59.94 199.41,59.93 199.45,59.91 199.5,59.9" fill="none" stroke="none" marker-start="url(#ms)" marker-mid="url(#ms)" marker-end="url(#ms)"/>
<path d="M54.21 82L199.5 42.6" stroke="#000" stroke-width="0.9" fill="none"/>
<rect x="38" y="13" width="161.5" height="117.5" stroke="#000" stroke-width="1.0" fill="none"/>
<text x="32.3" y="134.9" text-anchor="end" font-size="11.1">10<tspan dy="-5.2" font-size="8.7">-1</tspan></text>
<text x="32.3" y="105.53" text-anchor="end" font-size="11.1">10<tspan dy="-5.2" font-size="8.7">0</tspan></text>
<text x="32.3" y="76.15" text-anchor="end" font-size="11.1">10<tspan dy="-5.2" font-size="8.7">1</tspan></text>
<text x="32.3" y="46.77" text-anchor="end" font-size="11.1">10<tspan dy="-5.2" font-size="8.7">2</tspan></text>
<text x="32.3" y="17.4" text-anchor="end" font-size="11.1">10<tspan dy="-5.2" font-size="8.7">3</tspan></text>
<text x="38" y="146.3" text-anchor="middle" font-size="11.1">10<tspan dy="-5.2" font-size="8.7">1</tspan></text>
<text x="91.83" y="146.3" text-anchor="middle" font-size="11.1">10<tspan dy="-5.2" font-size="8.7">2</tspan></text>
<text x="145.67" y="146.3" text-anchor="middle" font-size="11.1">10<tspan dy="-5.2" font-size="8.7">3</tspan></text>
<text x="199.5" y="146.3" text-anchor="middle" font-size="11.1">10<tspan dy="-5.2" font-size="8.7">4</tspan></text>
<text x="119.05" y="156.3" text-anchor="middle" font-size="11.2" font-weight="bold" style="stroke:none">t</text>
<text x="43.7" y="24.6" font-size="10.6" letter-spacing="0.2" style="stroke-width:0.4px">ν=1 α=2</text>
<text transform="translate(11.9 71.75) rotate(-90)" font-size="12.6" x="-5.1" y="0" style="stroke-width:0.3px">q<tspan dy="3" font-size="3.3" letter-spacing="0.35" style="stroke-width:0.25px">max</tspan></text>
</g>
<g>
<path d="M272.21 130.5v-2M272.21 13v2M281.69 130.5v-2M281.69 13v2M288.41 130.5v-2M288.41 13v2M293.63 130.5v-2M293.63 13v2M297.89 130.5v-2M297.89 13v2M301.49 130.5v-2M301.49 13v2M304.62 130.5v-2M304.62 13v2M307.37 130.5v-2M307.37 13v2M309.83 130.5v-4.2M309.83 13v4.2M326.04 130.5v-2M326.04 13v2M335.52 130.5v-2M335.52 13v2M342.24 130.5v-2M342.24 13v2M347.46 130.5v-2M347.46 13v2M351.72 130.5v-2M351.72 13v2M355.33 130.5v-2M355.33 13v2M358.45 130.5v-2M358.45 13v2M361.2 130.5v-2M361.2 13v2M363.67 130.5v-4.2M363.67 13v4.2M379.87 130.5v-2M379.87 13v2M389.35 130.5v-2M389.35 13v2M396.08 130.5v-2M396.08 13v2M401.29 130.5v-2M401.29 13v2M405.56 130.5v-2M405.56 13v2M409.16 130.5v-2M409.16 13v2M412.28 130.5v-2M412.28 13v2M415.04 130.5v-2M415.04 13v2M256 121.66h2M417.5 121.66h-2M256 116.48h2M417.5 116.48h-2M256 112.81h2M417.5 112.81h-2M256 109.97h2M417.5 109.97h-2M256 107.64h2M417.5 107.64h-2M256 105.68h2M417.5 105.68h-2M256 103.97h2M417.5 103.97h-2M256 102.47h2M417.5 102.47h-2M256 101.12h4.2M417.5 101.12h-4.2M256 92.28h2M417.5 92.28h-2M256 87.11h2M417.5 87.11h-2M256 83.44h2M417.5 83.44h-2M256 80.59h2M417.5 80.59h-2M256 78.27h2M417.5 78.27h-2M256 76.3h2M417.5 76.3h-2M256 74.6h2M417.5 74.6h-2M256 73.09h2M417.5 73.09h-2M256 71.75h4.2M417.5 71.75h-4.2M256 62.91h2M417.5 62.91h-2M256 57.73h2M417.5 57.73h-2M256 54.06h2M417.5 54.06h-2M256 51.22h2M417.5 51.22h-2M256 48.89h2M417.5 48.89h-2M256 46.93h2M417.5 46.93h-2M256 45.22h2M417.5 45.22h-2M256 43.72h2M417.5 43.72h-2M256 42.38h4.2M417.5 42.38h-4.2M256 33.53h2M417.5 33.53h-2M256 28.36h2M417.5 28.36h-2M256 24.69h2M417.5 24.69h-2M256 21.84h2M417.5 21.84h-2M256 19.52h2M417.5 19.52h-2M256 17.55h2M417.5 17.55h-2M256 15.85h2M417.5 15.85h-2M256 14.34h2M417.5 14.34h-2" stroke="#000" stroke-width="0.8" fill="none"/>
<polyline points="272.21,82.3 288.41,78.88 297.89,76.87 304.62,75.45 309.83,74.35 314.1,73.45 317.7,72.69 320.82,72.03 323.58,71.45 326.04,70.93 328.27,70.45 330.3,70.02 332.17,69.63 333.91,69.26 335.52,68.92 337.03,68.6 338.44,68.3 339.78,68.02 341.05,67.75 342.24,67.5 343.38,67.26 344.47,67.03 345.51,66.81 346.51,66.6 347.46,66.4 348.38,66.21 349.26,66.02 350.11,65.84 350.93,65.67 351.72,65.5 352.49,65.34 353.23,65.18 353.95,65.03 354.65,64.88 355.33,64.74 355.99,64.6 356.63,64.46 357.25,64.33 357.86,64.2 358.45,64.08 359.03,63.96 359.59,63.84 360.14,63.72 360.68,63.61 361.2,63.5 361.72,63.39 362.22,63.28 362.71,63.18 363.19,63.07 363.67,62.97 364.13,62.88 364.58,62.78 365.03,62.69 365.47,62.59 365.89,62.5 366.32,62.41 366.73,62.33 367.14,62.24 367.54,62.16 367.93,62.07 368.32,61.99 368.7,61.91 369.07,61.83 369.44,61.76 369.8,61.68 370.16,61.6 370.51,61.53 370.86,61.46 371.2,61.38 371.53,61.31 371.86,61.24 372.19,61.17 372.51,61.11 372.83,61.04 373.15,60.97 373.46,60.91 373.76,60.84 374.06,60.78 374.36,60.72 374.66,60.65 374.95,60.59 375.23,60.53 375.52,60.47 375.8,60.41 376.07,60.35 376.35,60.3 376.62,60.24 376.88,60.18 377.15,60.13 377.41,60.07 377.67,60.02 377.92,59.96 378.18,59.91 378.43,59.86 378.67,59.8 378.92,59.75 379.16,59.7 379.4,59.65 379.64,59.6 379.87,59.55 380.1,59.5 380.34,59.45 380.56,59.4 380.79,59.36 381.01,59.31 381.23,59.26 381.45,59.22 381.67,59.17 381.89,59.12 382.1,59.08 382.31,59.04 382.52,58.99 382.73,58.95 382.94,58.9 383.14,58.86 383.34,58.82 383.54,58.77 383.74,58.73 383.94,58.69 384.13,58.65 384.33,58.61 384.52,58.57 384.71,58.53 384.9,58.49 385.09,58.45 385.28,58.41 385.46,58.37 385.64,58.33 385.83,58.29 386.01,58.25 386.19,58.22 386.36,58.18 386.54,58.14 386.71,58.1 386.89,58.07 387.06,58.03 387.23,58 387.4,57.96 387.57,57.92 387.74,57.89 387.91,57.85 388.07,57.82 388.23,57.78 388.4,57.75 388.56,57.72 388.72,57.68 388.88,57.65 389.04,57.61 389.2,57.58 389.35,57.55 389.51,57.51 389.66,57.48 389.81,57.45 389.97,57.42 390.12,57.39 390.27,57.35 390.42,57.32 390.57,57.29 390.71,57.26 390.86,57.23 391.01,57.2 391.15,57.17 391.29,57.14 391.44,57.11 391.58,57.08 391.72,57.05 391.86,57.02 392,56.99 392.14,56.96 392.28,56.93 392.42,56.9 392.55,56.87 392.69,56.84 392.82,56.81 392.96,56.79 393.09,56.76 393.22,56.73 393.35,56.7 393.48,56.67 393.61,56.65 393.74,56.62 393.87,56.59 394,56.57 394.13,56.54 394.25,56.51 394.38,56.48 394.51,56.46 394.63,56.43 394.75,56.41 394.88,56.38 395,56.35 395.12,56.33 395.24,56.3 395.37,56.28 395.49,56.25 395.61,56.23 395.72,56.2 395.84,56.18 395.96,56.15 396.08,56.13 396.19,56.1 396.31,56.08 396.43,56.05 396.54,56.03 396.65,56 396.77,55.98 396.88,55.96 396.99,55.93 397.11,55.91 397.22,55.89 397.33,55.86 397.44,55.84 397.55,55.82 397.66,55.79 397.77,55.77 397.88,55.75 397.98,55.72 398.09,55.7 398.2,55.68 398.31,55.66 398.41,55.63 398.52,55.61 398.62,55.59 398.73,55.57 398.83,55.54 398.93,55.52 399.04,55.5 399.14,55.48 399.24,55.46 399.35,55.44 399.45,55.41 399.55,55.39 399.65,55.37 399.75,55.35 399.85,55.33 399.95,55.31 400.05,55.29 400.14,55.27 400.24,55.25 400.34,55.23 400.44,55.21 400.53,55.18 400.63,55.16 400.73,55.14 400.82,55.12 400.92,55.1 401.01,55.08 401.11,55.06 401.2,55.04 401.29,55.02 401.39,55 401.48,54.98 401.57,54.97 401.67,54.95 401.76,54.93 401.85,54.91 401.94,54.89 402.03,54.87 402.12,54.85 402.21,54.83 402.3,54.81 402.39,54.79 402.48,54.77 402.57,54.75 402.66,54.74 402.74,54.72 402.83,54.7 402.92,54.68 403.01,54.66 403.09,54.64 403.18,54.63 403.27,54.61 403.35,54.59 403.44,54.57 403.52,54.55 403.61,54.54 403.69,54.52 403.78,54.5 403.86,54.48 403.94,54.46 404.03,54.45 404.11,54.43 404.19,54.41 404.28,54.39 404.36,54.38 404.44,54.36 404.52,54.34 404.6,54.33 404.68,54.31 404.76,54.29 404.85,54.27 404.93,54.26 405.01,54.24 405.08,54.22 405.16,54.21 405.24,54.19 405.32,54.17 405.4,54.16 405.48,54.14 405.56,54.12 405.63,54.11 405.71,54.09 405.79,54.07 405.87,54.06 405.94,54.04 406.02,54.03 406.1,54.01 406.17,53.99 406.25,53.98 406.32,53.96 406.4,53.95 406.47,53.93 406.55,53.91 406.62,53.9 406.7,53.88 406.77,53.87 406.85,53.85 406.92,53.84 406.99,53.82 407.07,53.8 407.14,53.79 407.21,53.77 407.28,53.76 407.36,53.74 407.43,53.73 407.5,53.71 407.57,53.7 407.64,53.68 407.71,53.67 407.79,53.65 407.86,53.64 407.93,53.62 408,53.61 408.07,53.59 408.14,53.58 408.21,53.56 408.28,53.55 408.35,53.53 408.41,53.52 408.48,53.51 408.55,53.49 408.62,53.48 408.69,53.46 408.76,53.45 408.82,53.43 408.89,53.42 408.96,53.4 409.03,53.39 409.09,53.38 409.16,53.36 409.23,53.35 409.29,53.33 409.36,53.32 409.43,53.31 409.49,53.29 409.56,53.28 409.62,53.26 409.69,53.25 409.75,53.24 409.82,53.22 409.88,53.21 409.95,53.2 410.01,53.18 410.08,53.17 410.14,53.15 410.21,53.14 410.27,53.13 410.33,53.11 410.4,53.1 410.46,53.09 410.52,53.07 410.59,53.06 410.65,53.05 410.71,53.03 410.77,53.02 410.84,53.01 410.9,52.99 410.96,52.98 411.02,52.97 411.08,52.96 411.15,52.94 411.21,52.93 411.27,52.92 411.33,52.9 411.39,52.89 411.45,52.88 411.51,52.87 411.57,52.85 411.63,52.84 411.69,52.83 411.75,52.81 411.81,52.8 411.87,52.79 411.93,52.78 411.99,52.76 412.05,52.75 412.11,52.74 412.17,52.73 412.22,52.71 412.28,52.7 412.34,52.69 412.4,52.68 412.46,52.67 412.52,52.65 412.57,52.64 412.63,52.63 412.69,52.62 412.75,52.6 412.8,52.59 412.86,52.58 412.92,52.57 412.97,52.56 413.03,52.54 413.09,52.53 413.14,52.52 413.2,52.51 413.26,52.5 413.31,52.48 413.37,52.47 413.42,52.46 413.48,52.45 413.53,52.44 413.59,52.43 413.65,52.41 413.7,52.4 413.76,52.39 413.81,52.38 413.86,52.37 413.92,52.36 413.97,52.35 414.03,52.33 414.08,52.32 414.14,52.31 414.19,52.3 414.24,52.29 414.3,52.28 414.35,52.27 414.4,52.25 414.46,52.24 414.51,52.23 414.56,52.22 414.62,52.21 414.67,52.2 414.72,52.19 414.78,52.18 414.83,52.16 414.88,52.15 414.93,52.14 414.98,52.13 415.04,52.12 415.09,52.11 415.14,52.1 415.19,52.09 415.24,52.08 415.3,52.07 415.35,52.06 415.4,52.04 415.45,52.03 415.5,52.02 415.55,52.01 415.6,52 415.65,51.99 415.7,51.98 415.75,51.97 415.8,51.96 415.85,51.95 415.9,51.94 415.95,51.93 416,51.92 416.05,51.91 416.1,51.9 416.15,51.88 416.2,51.87 416.25,51.86 416.3,51.85 416.35,51.84 416.4,51.83 416.45,51.82 416.5,51.81 416.55,51.8 416.59,51.79 416.64,51.78 416.69,51.77 416.74,51.76 416.79,51.75 416.84,51.74 416.88,51.73 416.93,51.72 416.98,51.71 417.03,51.7 417.08,51.69 417.12,51.68 417.17,51.67 417.22,51.66 417.27,51.65 417.31,51.64 417.36,51.63 417.41,51.62 417.45,51.61 417.5,51.6" fill="none" stroke="none" marker-start="url(#mp)" marker-mid="url(#mp)" marker-end="url(#mp)"/>
<polyline points="272.21,88.6 288.41,85.18 297.89,83.17 304.62,81.75 309.83,80.65 314.1,79.75 317.7,78.99 320.82,78.33 323.58,77.75 326.04,77.23 328.27,76.75 330.3,76.32 332.17,75.93 333.91,75.56 335.52,75.22 337.03,74.9 338.44,74.6 339.78,74.32 341.05,74.05 342.24,73.8 343.38,73.56 344.47,73.33 345.51,73.11 346.51,72.9 347.46,72.7 348.38,72.51 349.26,72.32 350.11,72.14 350.93,71.97 351.72,71.8 352.49,71.64 353.23,71.48 353.95,71.33 354.65,71.18 355.33,71.04 355.99,70.9 356.63,70.76 357.25,70.63 357.86,70.5 358.45,70.38 359.03,70.26 359.59,70.14 360.14,70.02 360.68,69.91 361.2,69.8 361.72,69.69 362.22,69.58 362.71,69.48 363.19,69.37 363.67,69.27 364.13,69.18 364.58,69.08 365.03,68.99 365.47,68.89 365.89,68.8 366.32,68.71 366.73,68.63 367.14,68.54 367.54,68.46 367.93,68.37 368.32,68.29 368.7,68.21 369.07,68.13 369.44,68.06 369.8,67.98 370.16,67.9 370.51,67.83 370.86,67.76 371.2,67.68 371.53,67.61 371.86,67.54 372.19,67.47 372.51,67.41 372.83,67.34 373.15,67.27 373.46,67.21 373.76,67.14 374.06,67.08 374.36,67.02 374.66,66.95 374.95,66.89 375.23,66.83 375.52,66.77 375.8,66.71 376.07,66.65 376.35,66.6 376.62,66.54 376.88,66.48 377.15,66.43 377.41,66.37 377.67,66.32 377.92,66.26 378.18,66.21 378.43,66.16 378.67,66.1 378.92,66.05 379.16,66 379.4,65.95 379.64,65.9 379.87,65.85 380.1,65.8 380.34,65.75 380.56,65.7 380.79,65.66 381.01,65.61 381.23,65.56 381.45,65.52 381.67,65.47 381.89,65.42 382.1,65.38 382.31,65.34 382.52,65.29 382.73,65.25 382.94,65.2 383.14,65.16 383.34,65.12 383.54,65.07 383.74,65.03 383.94,64.99 384.13,64.95 384.33,64.91 384.52,64.87 384.71,64.83 384.9,64.79 385.09,64.75 385.28,64.71 385.46,64.67 385.64,64.63 385.83,64.59 386.01,64.55 386.19,64.52 386.36,64.48 386.54,64.44 386.71,64.4 386.89,64.37 387.06,64.33 387.23,64.3 387.4,64.26 387.57,64.22 387.74,64.19 387.91,64.15 388.07,64.12 388.23,64.08 388.4,64.05 388.56,64.02 388.72,63.98 388.88,63.95 389.04,63.91 389.2,63.88 389.35,63.85 389.51,63.81 389.66,63.78 389.81,63.75 389.97,63.72 390.12,63.69 390.27,63.65 390.42,63.62 390.57,63.59 390.71,63.56 390.86,63.53 391.01,63.5 391.15,63.47 391.29,63.44 391.44,63.41 391.58,63.38 391.72,63.35 391.86,63.32 392,63.29 392.14,63.26 392.28,63.23 392.42,63.2 392.55,63.17 392.69,63.14 392.82,63.11 392.96,63.09 393.09,63.06 393.22,63.03 393.35,63 393.48,62.97 393.61,62.95 393.74,62.92 393.87,62.89 394,62.87 394.13,62.84 394.25,62.81 394.38,62.78 394.51,62.76 394.63,62.73 394.75,62.71 394.88,62.68 395,62.65 395.12,62.63 395.24,62.6 395.37,62.58 395.49,62.55 395.61,62.53 395.72,62.5 395.84,62.48 395.96,62.45 396.08,62.43 396.19,62.4 396.31,62.38 396.43,62.35 396.54,62.33 396.65,62.3 396.77,62.28 396.88,62.26 396.99,62.23 397.11,62.21 397.22,62.19 397.33,62.16 397.44,62.14 397.55,62.12 397.66,62.09 397.77,62.07 397.88,62.05 397.98,62.02 398.09,62 398.2,61.98 398.31,61.96 398.41,61.93 398.52,61.91 398.62,61.89 398.73,61.87 398.83,61.84 398.93,61.82 399.04,61.8 399.14,61.78 399.24,61.76 399.35,61.74 399.45,61.71 399.55,61.69 399.65,61.67 399.75,61.65 399.85,61.63 399.95,61.61 400.05,61.59 400.14,61.57 400.24,61.55 400.34,61.53 400.44,61.51 400.53,61.48 400.63,61.46 400.73,61.44 400.82,61.42 400.92,61.4 401.01,61.38 401.11,61.36 401.2,61.34 401.29,61.32 401.39,61.3 401.48,61.28 401.57,61.27 401.67,61.25 401.76,61.23 401.85,61.21 401.94,61.19 402.03,61.17 402.12,61.15 402.21,61.13 402.3,61.11 402.39,61.09 402.48,61.07 402.57,61.05 402.66,61.04 402.74,61.02 402.83,61 402.92,60.98 403.01,60.96 403.09,60.94 403.18,60.93 403.27,60.91 403.35,60.89 403.44,60.87 403.52,60.85 403.61,60.84 403.69,60.82 403.78,60.8 403.86,60.78 403.94,60.76 404.03,60.75 404.11,60.73 404.19,60.71 404.28,60.69 404.36,60.68 404.44,60.66 404.52,60.64 404.6,60.63 404.68,60.61 404.76,60.59 404.85,60.57 404.93,60.56 405.01,60.54 405.08,60.52 405.16,60.51 405.24,60.49 405.32,60.47 405.4,60.46 405.48,60.44 405.56,60.42 405.63,60.41 405.71,60.39 405.79,60.37 405.87,60.36 405.94,60.34 406.02,60.33 406.1,60.31 406.17,60.29 406.25,60.28 406.32,60.26 406.4,60.25 406.47,60.23 406.55,60.21 406.62,60.2 406.7,60.18 406.77,60.17 406.85,60.15 406.92,60.14 406.99,60.12 407.07,60.1 407.14,60.09 407.21,60.07 407.28,60.06 407.36,60.04 407.43,60.03 407.5,60.01 407.57,60 407.64,59.98 407.71,59.97 407.79,59.95 407.86,59.94 407.93,59.92 408,59.91 408.07,59.89 408.14,59.88 408.21,59.86 408.28,59.85 408.35,59.83 408.41,59.82 408.48,59.81 408.55,59.79 408.62,59.78 408.69,59.76 408.76,59.75 408.82,59.73 408.89,59.72 408.96,59.7 409.03,59.69 409.09,59.68 409.16,59.66 409.23,59.65 409.29,59.63 409.36,59.62 409.43,59.61 409.49,59.59 409.56,59.58 409.62,59.56 409.69,59.55 409.75,59.54 409.82,59.52 409.88,59.51 409.95,59.5 410.01,59.48 410.08,59.47 410.14,59.45 410.21,59.44 410.27,59.43 410.33,59.41 410.4,59.4 410.46,59.39 410.52,59.37 410.59,59.36 410.65,59.35 410.71,59.33 410.77,59.32 410.84,59.31 410.9,59.29 410.96,59.28 411.02,59.27 411.08,59.26 411.15,59.24 411.21,59.23 411.27,59.22 411.33,59.2 411.39,59.19 411.45,59.18 411.51,59.17 411.57,59.15 411.63,59.14 411.69,59.13 411.75,59.11 411.81,59.1 411.87,59.09 411.93,59.08 411.99,59.06 412.05,59.05 412.11,59.04 412.17,59.03 412.22,59.01 412.28,59 412.34,58.99 412.4,58.98 412.46,58.97 412.52,58.95 412.57,58.94 412.63,58.93 412.69,58.92 412.75,58.9 412.8,58.89 412.86,58.88 412.92,58.87 412.97,58.86 413.03,58.84 413.09,58.83 413.14,58.82 413.2,58.81 413.26,58.8 413.31,58.78 413.37,58.77 413.42,58.76 413.48,58.75 413.53,58.74 413.59,58.73 413.65,58.71 413.7,58.7 413.76,58.69 413.81,58.68 413.86,58.67 413.92,58.66 413.97,58.65 414.03,58.63 414.08,58.62 414.14,58.61 414.19,58.6 414.24,58.59 414.3,58.58 414.35,58.57 414.4,58.55 414.46,58.54 414.51,58.53 414.56,58.52 414.62,58.51 414.67,58.5 414.72,58.49 414.78,58.48 414.83,58.46 414.88,58.45 414.93,58.44 414.98,58.43 415.04,58.42 415.09,58.41 415.14,58.4 415.19,58.39 415.24,58.38 415.3,58.37 415.35,58.36 415.4,58.34 415.45,58.33 415.5,58.32 415.55,58.31 415.6,58.3 415.65,58.29 415.7,58.28 415.75,58.27 415.8,58.26 415.85,58.25 415.9,58.24 415.95,58.23 416,58.22 416.05,58.21 416.1,58.2 416.15,58.18 416.2,58.17 416.25,58.16 416.3,58.15 416.35,58.14 416.4,58.13 416.45,58.12 416.5,58.11 416.55,58.1 416.59,58.09 416.64,58.08 416.69,58.07 416.74,58.06 416.79,58.05 416.84,58.04 416.88,58.03 416.93,58.02 416.98,58.01 417.03,58 417.08,57.99 417.12,57.98 417.17,57.97 417.22,57.96 417.27,57.95 417.31,57.94 417.36,57.93 417.41,57.92 417.45,57.91 417.5,57.9" fill="none" stroke="none" marker-start="url(#mx)" marker-mid="url(#mx)" marker-end="url(#mx)"/>
<polyline points="272.21,95.2 288.41,91.7 297.89,89.65 304.62,88.2 309.83,87.07 314.1,86.15 317.7,85.37 320.82,84.69 323.58,84.1 326.04,83.57 328.27,83.08 330.3,82.64 332.17,82.24 333.91,81.87 335.52,81.52 337.03,81.19 338.44,80.88 339.78,80.6 341.05,80.32 342.24,80.06 343.38,79.82 344.47,79.58 345.51,79.36 346.51,79.14 347.46,78.94 348.38,78.74 349.26,78.55 350.11,78.36 350.93,78.19 351.72,78.02 352.49,77.85 353.23,77.69 353.95,77.53 354.65,77.38 355.33,77.24 355.99,77.09 356.63,76.96 357.25,76.82 357.86,76.69 358.45,76.56 359.03,76.44 359.59,76.32 360.14,76.2 360.68,76.08 361.2,75.97 361.72,75.86 362.22,75.75 362.71,75.64 363.19,75.54 363.67,75.43 364.13,75.33 364.58,75.24 365.03,75.14 365.47,75.05 365.89,74.95 366.32,74.86 366.73,74.77 367.14,74.68 367.54,74.6 367.93,74.51 368.32,74.43 368.7,74.35 369.07,74.27 369.44,74.19 369.8,74.11 370.16,74.03 370.51,73.96 370.86,73.88 371.2,73.81 371.53,73.73 371.86,73.66 372.19,73.59 372.51,73.52 372.83,73.45 373.15,73.39 373.46,73.32 373.76,73.25 374.06,73.19 374.36,73.12 374.66,73.06 374.95,73 375.23,72.93 375.52,72.87 375.8,72.81 376.07,72.75 376.35,72.69 376.62,72.64 376.88,72.58 377.15,72.52 377.41,72.46 377.67,72.41 377.92,72.35 378.18,72.3 378.43,72.24 378.67,72.19 378.92,72.14 379.16,72.09 379.4,72.03 379.64,71.98 379.87,71.93 380.1,71.88 380.34,71.83 380.56,71.78 380.79,71.73 381.01,71.69 381.23,71.64 381.45,71.59 381.67,71.54 381.89,71.5 382.1,71.45 382.31,71.4 382.52,71.36 382.73,71.31 382.94,71.27 383.14,71.23 383.34,71.18 383.54,71.14 383.74,71.1 383.94,71.05 384.13,71.01 384.33,70.97 384.52,70.93 384.71,70.89 384.9,70.84 385.09,70.8 385.28,70.76 385.46,70.72 385.64,70.68 385.83,70.65 386.01,70.61 386.19,70.57 386.36,70.53 386.54,70.49 386.71,70.45 386.89,70.42 387.06,70.38 387.23,70.34 387.4,70.3 387.57,70.27 387.74,70.23 387.91,70.2 388.07,70.16 388.23,70.12 388.4,70.09 388.56,70.05 388.72,70.02 388.88,69.99 389.04,69.95 389.2,69.92 389.35,69.88 389.51,69.85 389.66,69.82 389.81,69.78 389.97,69.75 390.12,69.72 390.27,69.69 390.42,69.65 390.57,69.62 390.71,69.59 390.86,69.56 391.01,69.53 391.15,69.49 391.29,69.46 391.44,69.43 391.58,69.4 391.72,69.37 391.86,69.34 392,69.31 392.14,69.28 392.28,69.25 392.42,69.22 392.55,69.19 392.69,69.16 392.82,69.13 392.96,69.1 393.09,69.08 393.22,69.05 393.35,69.02 393.48,68.99 393.61,68.96 393.74,68.93 393.87,68.91 394,68.88 394.13,68.85 394.25,68.82 394.38,68.8 394.51,68.77 394.63,68.74 394.75,68.72 394.88,68.69 395,68.66 395.12,68.64 395.24,68.61 395.37,68.58 395.49,68.56 395.61,68.53 395.72,68.51 395.84,68.48 395.96,68.45 396.08,68.43 396.19,68.4 396.31,68.38 396.43,68.35 396.54,68.33 396.65,68.3 396.77,68.28 396.88,68.26 396.99,68.23 397.11,68.21 397.22,68.18 397.33,68.16 397.44,68.14 397.55,68.11 397.66,68.09 397.77,68.06 397.88,68.04 397.98,68.02 398.09,67.99 398.2,67.97 398.31,67.95 398.41,67.93 398.52,67.9 398.62,67.88 398.73,67.86 398.83,67.83 398.93,67.81 399.04,67.79 399.14,67.77 399.24,67.75 399.35,67.72 399.45,67.7 399.55,67.68 399.65,67.66 399.75,67.64 399.85,67.61 399.95,67.59 400.05,67.57 400.14,67.55 400.24,67.53 400.34,67.51 400.44,67.49 400.53,67.47 400.63,67.45 400.73,67.42 400.82,67.4 400.92,67.38 401.01,67.36 401.11,67.34 401.2,67.32 401.29,67.3 401.39,67.28 401.48,67.26 401.57,67.24 401.67,67.22 401.76,67.2 401.85,67.18 401.94,67.16 402.03,67.14 402.12,67.12 402.21,67.1 402.3,67.08 402.39,67.07 402.48,67.05 402.57,67.03 402.66,67.01 402.74,66.99 402.83,66.97 402.92,66.95 403.01,66.93 403.09,66.91 403.18,66.89 403.27,66.88 403.35,66.86 403.44,66.84 403.52,66.82 403.61,66.8 403.69,66.78 403.78,66.77 403.86,66.75 403.94,66.73 404.03,66.71 404.11,66.69 404.19,66.68 404.28,66.66 404.36,66.64 404.44,66.62 404.52,66.6 404.6,66.59 404.68,66.57 404.76,66.55 404.85,66.53 404.93,66.52 405.01,66.5 405.08,66.48 405.16,66.47 405.24,66.45 405.32,66.43 405.4,66.41 405.48,66.4 405.56,66.38 405.63,66.36 405.71,66.35 405.79,66.33 405.87,66.31 405.94,66.3 406.02,66.28 406.1,66.26 406.17,66.25 406.25,66.23 406.32,66.22 406.4,66.2 406.47,66.18 406.55,66.17 406.62,66.15 406.7,66.13 406.77,66.12 406.85,66.1 406.92,66.09 406.99,66.07 407.07,66.05 407.14,66.04 407.21,66.02 407.28,66.01 407.36,65.99 407.43,65.98 407.5,65.96 407.57,65.95 407.64,65.93 407.71,65.91 407.79,65.9 407.86,65.88 407.93,65.87 408,65.85 408.07,65.84 408.14,65.82 408.21,65.81 408.28,65.79 408.35,65.78 408.41,65.76 408.48,65.75 408.55,65.73 408.62,65.72 408.69,65.7 408.76,65.69 408.82,65.67 408.89,65.66 408.96,65.65 409.03,65.63 409.09,65.62 409.16,65.6 409.23,65.59 409.29,65.57 409.36,65.56 409.43,65.54 409.49,65.53 409.56,65.52 409.62,65.5 409.69,65.49 409.75,65.47 409.82,65.46 409.88,65.45 409.95,65.43 410.01,65.42 410.08,65.4 410.14,65.39 410.21,65.38 410.27,65.36 410.33,65.35 410.4,65.34 410.46,65.32 410.52,65.31 410.59,65.29 410.65,65.28 410.71,65.27 410.77,65.25 410.84,65.24 410.9,65.23 410.96,65.21 411.02,65.2 411.08,65.19 411.15,65.17 411.21,65.16 411.27,65.15 411.33,65.13 411.39,65.12 411.45,65.11 411.51,65.09 411.57,65.08 411.63,65.07 411.69,65.06 411.75,65.04 411.81,65.03 411.87,65.02 411.93,65 411.99,64.99 412.05,64.98 412.11,64.97 412.17,64.95 412.22,64.94 412.28,64.93 412.34,64.91 412.4,64.9 412.46,64.89 412.52,64.88 412.57,64.86 412.63,64.85 412.69,64.84 412.75,64.83 412.8,64.82 412.86,64.8 412.92,64.79 412.97,64.78 413.03,64.77 413.09,64.75 413.14,64.74 413.2,64.73 413.26,64.72 413.31,64.71 413.37,64.69 413.42,64.68 413.48,64.67 413.53,64.66 413.59,64.64 413.65,64.63 413.7,64.62 413.76,64.61 413.81,64.6 413.86,64.59 413.92,64.57 413.97,64.56 414.03,64.55 414.08,64.54 414.14,64.53 414.19,64.52 414.24,64.5 414.3,64.49 414.35,64.48 414.4,64.47 414.46,64.46 414.51,64.45 414.56,64.43 414.62,64.42 414.67,64.41 414.72,64.4 414.78,64.39 414.83,64.38 414.88,64.37 414.93,64.35 414.98,64.34 415.04,64.33 415.09,64.32 415.14,64.31 415.19,64.3 415.24,64.29 415.3,64.28 415.35,64.27 415.4,64.25 415.45,64.24 415.5,64.23 415.55,64.22 415.6,64.21 415.65,64.2 415.7,64.19 415.75,64.18 415.8,64.17 415.85,64.16 415.9,64.14 415.95,64.13 416,64.12 416.05,64.11 416.1,64.1 416.15,64.09 416.2,64.08 416.25,64.07 416.3,64.06 416.35,64.05 416.4,64.04 416.45,64.03 416.5,64.02 416.55,64.01 416.59,64 416.64,63.99 416.69,63.97 416.74,63.96 416.79,63.95 416.84,63.94 416.88,63.93 416.93,63.92 416.98,63.91 417.03,63.9 417.08,63.89 417.12,63.88 417.17,63.87 417.22,63.86 417.27,63.85 417.31,63.84 417.36,63.83 417.41,63.82 417.45,63.81 417.5,63.8" fill="none" stroke="none" marker-start="url(#mo)" marker-mid="url(#mo)" marker-end="url(#mo)"/>
<polyline points="272.21,104.7 288.41,101.2 297.89,99.15 304.62,97.7 309.83,96.57 314.1,95.65 317.7,94.87 320.82,94.19 323.58,93.6 326.04,93.07 328.27,92.58 330.3,92.14 332.17,91.74 333.91,91.37 335.52,91.02 337.03,90.69 338.44,90.38 339.78,90.1 341.05,89.82 342.24,89.56 343.38,89.32 344.47,89.08 345.51,88.86 346.51,88.64 347.46,88.44 348.38,88.24 349.26,88.05 350.11,87.86 350.93,87.69 351.72,87.52 352.49,87.35 353.23,87.19 353.95,87.03 354.65,86.88 355.33,86.74 355.99,86.59 356.63,86.46 357.25,86.32 357.86,86.19 358.45,86.06 359.03,85.94 359.59,85.82 360.14,85.7 360.68,85.58 361.2,85.47 361.72,85.36 362.22,85.25 362.71,85.14 363.19,85.04 363.67,84.93 364.13,84.83 364.58,84.74 365.03,84.64 365.47,84.55 365.89,84.45 366.32,84.36 366.73,84.27 367.14,84.18 367.54,84.1 367.93,84.01 368.32,83.93 368.7,83.85 369.07,83.77 369.44,83.69 369.8,83.61 370.16,83.53 370.51,83.46 370.86,83.38 371.2,83.31 371.53,83.23 371.86,83.16 372.19,83.09 372.51,83.02 372.83,82.95 373.15,82.89 373.46,82.82 373.76,82.75 374.06,82.69 374.36,82.62 374.66,82.56 374.95,82.5 375.23,82.43 375.52,82.37 375.8,82.31 376.07,82.25 376.35,82.19 376.62,82.14 376.88,82.08 377.15,82.02 377.41,81.96 377.67,81.91 377.92,81.85 378.18,81.8 378.43,81.74 378.67,81.69 378.92,81.64 379.16,81.59 379.4,81.53 379.64,81.48 379.87,81.43 380.1,81.38 380.34,81.33 380.56,81.28 380.79,81.23 381.01,81.19 381.23,81.14 381.45,81.09 381.67,81.04 381.89,81 382.1,80.95 382.31,80.9 382.52,80.86 382.73,80.81 382.94,80.77 383.14,80.73 383.34,80.68 383.54,80.64 383.74,80.6 383.94,80.55 384.13,80.51 384.33,80.47 384.52,80.43 384.71,80.39 384.9,80.34 385.09,80.3 385.28,80.26 385.46,80.22 385.64,80.18 385.83,80.15 386.01,80.11 386.19,80.07 386.36,80.03 386.54,79.99 386.71,79.95 386.89,79.92 387.06,79.88 387.23,79.84 387.4,79.8 387.57,79.77 387.74,79.73 387.91,79.7 388.07,79.66 388.23,79.62 388.4,79.59 388.56,79.55 388.72,79.52 388.88,79.49 389.04,79.45 389.2,79.42 389.35,79.38 389.51,79.35 389.66,79.32 389.81,79.28 389.97,79.25 390.12,79.22 390.27,79.19 390.42,79.15 390.57,79.12 390.71,79.09 390.86,79.06 391.01,79.03 391.15,78.99 391.29,78.96 391.44,78.93 391.58,78.9 391.72,78.87 391.86,78.84 392,78.81 392.14,78.78 392.28,78.75 392.42,78.72 392.55,78.69 392.69,78.66 392.82,78.63 392.96,78.6 393.09,78.58 393.22,78.55 393.35,78.52 393.48,78.49 393.61,78.46 393.74,78.43 393.87,78.41 394,78.38 394.13,78.35 394.25,78.32 394.38,78.3 394.51,78.27 394.63,78.24 394.75,78.22 394.88,78.19 395,78.16 395.12,78.14 395.24,78.11 395.37,78.08 395.49,78.06 395.61,78.03 395.72,78.01 395.84,77.98 395.96,77.95 396.08,77.93 396.19,77.9 396.31,77.88 396.43,77.85 396.54,77.83 396.65,77.8 396.77,77.78 396.88,77.76 396.99,77.73 397.11,77.71 397.22,77.68 397.33,77.66 397.44,77.64 397.55,77.61 397.66,77.59 397.77,77.56 397.88,77.54 397.98,77.52 398.09,77.49 398.2,77.47 398.31,77.45 398.41,77.43 398.52,77.4 398.62,77.38 398.73,77.36 398.83,77.33 398.93,77.31 399.04,77.29 399.14,77.27 399.24,77.25 399.35,77.22 399.45,77.2 399.55,77.18 399.65,77.16 399.75,77.14 399.85,77.11 399.95,77.09 400.05,77.07 400.14,77.05 400.24,77.03 400.34,77.01 400.44,76.99 400.53,76.97 400.63,76.95 400.73,76.92 400.82,76.9 400.92,76.88 401.01,76.86 401.11,76.84 401.2,76.82 401.29,76.8 401.39,76.78 401.48,76.76 401.57,76.74 401.67,76.72 401.76,76.7 401.85,76.68 401.94,76.66 402.03,76.64 402.12,76.62 402.21,76.6 402.3,76.58 402.39,76.57 402.48,76.55 402.57,76.53 402.66,76.51 402.74,76.49 402.83,76.47 402.92,76.45 403.01,76.43 403.09,76.41 403.18,76.39 403.27,76.38 403.35,76.36 403.44,76.34 403.52,76.32 403.61,76.3 403.69,76.28 403.78,76.27 403.86,76.25 403.94,76.23 404.03,76.21 404.11,76.19 404.19,76.18 404.28,76.16 404.36,76.14 404.44,76.12 404.52,76.1 404.6,76.09 404.68,76.07 404.76,76.05 404.85,76.03 404.93,76.02 405.01,76 405.08,75.98 405.16,75.97 405.24,75.95 405.32,75.93 405.4,75.91 405.48,75.9 405.56,75.88 405.63,75.86 405.71,75.85 405.79,75.83 405.87,75.81 405.94,75.8 406.02,75.78 406.1,75.76 406.17,75.75 406.25,75.73 406.32,75.72 406.4,75.7 406.47,75.68 406.55,75.67 406.62,75.65 406.7,75.63 406.77,75.62 406.85,75.6 406.92,75.59 406.99,75.57 407.07,75.55 407.14,75.54 407.21,75.52 407.28,75.51 407.36,75.49 407.43,75.48 407.5,75.46 407.57,75.45 407.64,75.43 407.71,75.41 407.79,75.4 407.86,75.38 407.93,75.37 408,75.35 408.07,75.34 408.14,75.32 408.21,75.31 408.28,75.29 408.35,75.28 408.41,75.26 408.48,75.25 408.55,75.23 408.62,75.22 408.69,75.2 408.76,75.19 408.82,75.17 408.89,75.16 408.96,75.15 409.03,75.13 409.09,75.12 409.16,75.1 409.23,75.09 409.29,75.07 409.36,75.06 409.43,75.04 409.49,75.03 409.56,75.02 409.62,75 409.69,74.99 409.75,74.97 409.82,74.96 409.88,74.95 409.95,74.93 410.01,74.92 410.08,74.9 410.14,74.89 410.21,74.88 410.27,74.86 410.33,74.85 410.4,74.84 410.46,74.82 410.52,74.81 410.59,74.79 410.65,74.78 410.71,74.77 410.77,74.75 410.84,74.74 410.9,74.73 410.96,74.71 411.02,74.7 411.08,74.69 411.15,74.67 411.21,74.66 411.27,74.65 411.33,74.63 411.39,74.62 411.45,74.61 411.51,74.59 411.57,74.58 411.63,74.57 411.69,74.56 411.75,74.54 411.81,74.53 411.87,74.52 411.93,74.5 411.99,74.49 412.05,74.48 412.11,74.47 412.17,74.45 412.22,74.44 412.28,74.43 412.34,74.41 412.4,74.4 412.46,74.39 412.52,74.38 412.57,74.36 412.63,74.35 412.69,74.34 412.75,74.33 412.8,74.32 412.86,74.3 412.92,74.29 412.97,74.28 413.03,74.27 413.09,74.25 413.14,74.24 413.2,74.23 413.26,74.22 413.31,74.21 413.37,74.19 413.42,74.18 413.48,74.17 413.53,74.16 413.59,74.14 413.65,74.13 413.7,74.12 413.76,74.11 413.81,74.1 413.86,74.09 413.92,74.07 413.97,74.06 414.03,74.05 414.08,74.04 414.14,74.03 414.19,74.02 414.24,74 414.3,73.99 414.35,73.98 414.4,73.97 414.46,73.96 414.51,73.95 414.56,73.93 414.62,73.92 414.67,73.91 414.72,73.9 414.78,73.89 414.83,73.88 414.88,73.87 414.93,73.85 414.98,73.84 415.04,73.83 415.09,73.82 415.14,73.81 415.19,73.8 415.24,73.79 415.3,73.78 415.35,73.77 415.4,73.75 415.45,73.74 415.5,73.73 415.55,73.72 415.6,73.71 415.65,73.7 415.7,73.69 415.75,73.68 415.8,73.67 415.85,73.66 415.9,73.64 415.95,73.63 416,73.62 416.05,73.61 416.1,73.6 416.15,73.59 416.2,73.58 416.25,73.57 416.3,73.56 416.35,73.55 416.4,73.54 416.45,73.53 416.5,73.52 416.55,73.51 416.59,73.5 416.64,73.49 416.69,73.47 416.74,73.46 416.79,73.45 416.84,73.44 416.88,73.43 416.93,73.42 416.98,73.41 417.03,73.4 417.08,73.39 417.12,73.38 417.17,73.37 417.22,73.36 417.27,73.35 417.31,73.34 417.36,73.33 417.41,73.32 417.45,73.31 417.5,73.3" fill="none" stroke="none" marker-start="url(#ms)" marker-mid="url(#ms)" marker-end="url(#ms)"/>
<path d="M272.21 85.6L417.5 54.7" stroke="#000" stroke-width="0.9" fill="none"/>
<rect x="256" y="13" width="161.5" height="117.5" stroke="#000" stroke-width="1.0" fill="none"/>
<text x="250.3" y="134.9" text-anchor="end" font-size="11.1">10<tspan dy="-5.2" font-size="8.7">-1</tspan></text>
<text x="250.3" y="105.53" text-anchor="end" font-size="11.1">10<tspan dy="-5.2" font-size="8.7">0</tspan></text>
<text x="250.3" y="76.15" text-anchor="end" font-size="11.1">10<tspan dy="-5.2" font-size="8.7">1</tspan></text>
<text x="250.3" y="46.77" text-anchor="end" font-size="11.1">10<tspan dy="-5.2" font-size="8.7">2</tspan></text>
<text x="250.3" y="17.4" text-anchor="end" font-size="11.1">10<tspan dy="-5.2" font-size="8.7">3</tspan></text>
<text x="256" y="146.3" text-anchor="middle" font-size="11.1">10<tspan dy="-5.2" font-size="8.7">1</tspan></text>
<text x="309.83" y="146.3" text-anchor="middle" font-size="11.1">10<tspan dy="-5.2" font-size="8.7">2</tspan></text>
<text x="363.67" y="146.3" text-anchor="middle" font-size="11.1">10<tspan dy="-5.2" font-size="8.7">3</tspan></text>
<text x="417.5" y="146.3" text-anchor="middle" font-size="11.1">10<tspan dy="-5.2" font-size="8.7">4</tspan></text>
<text x="337.05" y="156.3" text-anchor="middle" font-size="11.2" font-weight="bold" style="stroke:none">t</text>
<text x="261.7" y="24.6" font-size="10.6" letter-spacing="0.2" style="stroke-width:0.4px">ν=0.8 α=2</text>
<text transform="translate(220.6 71.75) rotate(-90)" font-size="12.6" x="-5.1" y="0" style="stroke-width:0.3px">q<tspan dy="3" font-size="3.3" letter-spacing="0.35" style="stroke-width:0.25px">max</tspan></text>
</g>
<g>
<path d="M54.21 283.1v-2M54.21 165.6v2M63.69 283.1v-2M63.69 165.6v2M70.41 283.1v-2M70.41 165.6v2M75.63 283.1v-2M75.63 165.6v2M79.89 283.1v-2M79.89 165.6v2M83.49 283.1v-2M83.49 165.6v2M86.62 283.1v-2M86.62 165.6v2M89.37 283.1v-2M89.37 165.6v2M91.83 283.1v-4.2M91.83 165.6v4.2M108.04 283.1v-2M108.04 165.6v2M117.52 283.1v-2M117.52 165.6v2M124.24 283.1v-2M124.24 165.6v2M129.46 283.1v-2M129.46 165.6v2M133.72 283.1v-2M133.72 165.6v2M137.33 283.1v-2M137.33 165.6v2M140.45 283.1v-2M140.45 165.6v2M143.2 283.1v-2M143.2 165.6v2M145.67 283.1v-4.2M145.67 165.6v4.2M161.87 283.1v-2M161.87 165.6v2M171.35 283.1v-2M171.35 165.6v2M178.08 283.1v-2M178.08 165.6v2M183.29 283.1v-2M183.29 165.6v2M187.56 283.1v-2M187.56 165.6v2M191.16 283.1v-2M191.16 165.6v2M194.28 283.1v-2M194.28 165.6v2M197.04 283.1v-2M197.04 165.6v2M38 274.26h2M199.5 274.26h-2M38 269.08h2M199.5 269.08h-2M38 265.41h2M199.5 265.41h-2M38 262.57h2M199.5 262.57h-2M38 260.24h2M199.5 260.24h-2M38 258.28h2M199.5 258.28h-2M38 256.57h2M199.5 256.57h-2M38 255.07h2M199.5 255.07h-2M38 253.73h4.2M199.5 253.73h-4.2M38 244.88h2M199.5 244.88h-2M38 239.71h2M199.5 239.71h-2M38 236.04h2M199.5 236.04h-2M38 233.19h2M199.5 233.19h-2M38 230.87h2M199.5 230.87h-2M38 228.9h2M199.5 228.9h-2M38 227.2h2M199.5 227.2h-2M38 225.69h2M199.5 225.69h-2M38 224.35h4.2M199.5 224.35h-4.2M38 215.51h2M199.5 215.51h-2M38 210.33h2M199.5 210.33h-2M38 206.66h2M199.5 206.66h-2M38 203.82h2M199.5 203.82h-2M38 201.49h2M199.5 201.49h-2M38 199.53h2M199.5 199.53h-2M38 197.82h2M199.5 197.82h-2M38 196.32h2M199.5 196.32h-2M38 194.98h4.2M199.5 194.98h-4.2M38 186.13h2M199.5 186.13h-2M38 180.96h2M199.5 180.96h-2M38 177.29h2M199.5 177.29h-2M38 174.44h2M199.5 174.44h-2M38 172.12h2M199.5 172.12h-2M38 170.15h2M199.5 170.15h-2M38 168.45h2M199.5 168.45h-2M38 166.94h2M199.5 166.94h-2" stroke="#000" stroke-width="0.8" fill="none"/>
<polyline points="54.21,225.5 70.41,220.03 79.89,216.84 86.62,214.57 91.83,212.81 96.1,211.37 99.7,210.16 102.82,209.1 105.58,208.18 108.04,207.34 110.27,206.59 112.3,205.91 114.17,205.28 115.91,204.69 117.52,204.15 119.03,203.64 120.44,203.16 121.78,202.71 123.05,202.28 124.24,201.88 125.38,201.5 126.47,201.13 127.51,200.78 128.51,200.44 129.46,200.12 130.38,199.81 131.26,199.51 132.11,199.23 132.93,198.95 133.72,198.68 134.49,198.42 135.23,198.17 135.95,197.93 136.65,197.7 137.33,197.47 137.99,197.25 138.63,197.03 139.25,196.82 139.86,196.61 140.45,196.41 141.03,196.22 141.59,196.03 142.14,195.84 142.68,195.66 143.2,195.49 143.72,195.31 144.22,195.14 144.71,194.98 145.19,194.81 145.67,194.66 146.13,194.5 146.58,194.35 147.03,194.2 147.47,194.05 147.89,193.9 148.32,193.76 148.73,193.62 149.14,193.48 149.54,193.35 149.93,193.22 150.32,193.09 150.7,192.96 151.07,192.83 151.44,192.71 151.8,192.59 152.16,192.47 152.51,192.35 152.86,192.23 153.2,192.12 153.53,192 153.86,191.89 154.19,191.78 154.51,191.67 154.83,191.56 155.15,191.46 155.46,191.35 155.76,191.25 156.06,191.15 156.36,191.05 156.66,190.95 156.95,190.85 157.23,190.75 157.52,190.66 157.8,190.56 158.07,190.47 158.35,190.38 158.62,190.29 158.88,190.2 159.15,190.11 159.41,190.02 159.67,189.93 159.92,189.85 160.18,189.76 160.43,189.68 160.67,189.59 160.92,189.51 161.16,189.43 161.4,189.35 161.64,189.27 161.87,189.19 162.1,189.11 162.34,189.03 162.56,188.96 162.79,188.88 163.01,188.81 163.23,188.73 163.45,188.66 163.67,188.58 163.89,188.51 164.1,188.44 164.31,188.37 164.52,188.3 164.73,188.23 164.94,188.16 165.14,188.09 165.34,188.02 165.54,187.95 165.74,187.88 165.94,187.82 166.13,187.75 166.33,187.69 166.52,187.62 166.71,187.56 166.9,187.49 167.09,187.43 167.28,187.37 167.46,187.31 167.64,187.24 167.83,187.18 168.01,187.12 168.19,187.06 168.36,187 168.54,186.94 168.71,186.88 168.89,186.82 169.06,186.77 169.23,186.71 169.4,186.65 169.57,186.59 169.74,186.54 169.91,186.48 170.07,186.43 170.23,186.37 170.4,186.31 170.56,186.26 170.72,186.21 170.88,186.15 171.04,186.1 171.2,186.05 171.35,185.99 171.51,185.94 171.66,185.89 171.81,185.84 171.97,185.79 172.12,185.73 172.27,185.68 172.42,185.63 172.57,185.58 172.71,185.53 172.86,185.48 173.01,185.43 173.15,185.39 173.29,185.34 173.44,185.29 173.58,185.24 173.72,185.19 173.86,185.15 174,185.1 174.14,185.05 174.28,185.01 174.42,184.96 174.55,184.91 174.69,184.87 174.82,184.82 174.96,184.78 175.09,184.73 175.22,184.69 175.35,184.64 175.48,184.6 175.61,184.56 175.74,184.51 175.87,184.47 176,184.43 176.13,184.38 176.25,184.34 176.38,184.3 176.51,184.25 176.63,184.21 176.75,184.17 176.88,184.13 177,184.09 177.12,184.05 177.24,184.01 177.37,183.96 177.49,183.92 177.61,183.88 177.72,183.84 177.84,183.8 177.96,183.76 178.08,183.72 178.19,183.69 178.31,183.65 178.43,183.61 178.54,183.57 178.65,183.53 178.77,183.49 178.88,183.45 178.99,183.42 179.11,183.38 179.22,183.34 179.33,183.3 179.44,183.27 179.55,183.23 179.66,183.19 179.77,183.15 179.88,183.12 179.98,183.08 180.09,183.05 180.2,183.01 180.31,182.97 180.41,182.94 180.52,182.9 180.62,182.87 180.73,182.83 180.83,182.8 180.93,182.76 181.04,182.73 181.14,182.69 181.24,182.66 181.35,182.62 181.45,182.59 181.55,182.55 181.65,182.52 181.75,182.49 181.85,182.45 181.95,182.42 182.05,182.39 182.14,182.35 182.24,182.32 182.34,182.29 182.44,182.25 182.53,182.22 182.63,182.19 182.73,182.16 182.82,182.12 182.92,182.09 183.01,182.06 183.11,182.03 183.2,182 183.29,181.97 183.39,181.93 183.48,181.9 183.57,181.87 183.67,181.84 183.76,181.81 183.85,181.78 183.94,181.75 184.03,181.72 184.12,181.69 184.21,181.66 184.3,181.63 184.39,181.6 184.48,181.57 184.57,181.54 184.66,181.51 184.74,181.48 184.83,181.45 184.92,181.42 185.01,181.39 185.09,181.36 185.18,181.33 185.27,181.3 185.35,181.27 185.44,181.24 185.52,181.21 185.61,181.19 185.69,181.16 185.78,181.13 185.86,181.1 185.94,181.07 186.03,181.04 186.11,181.02 186.19,180.99 186.28,180.96 186.36,180.93 186.44,180.9 186.52,180.88 186.6,180.85 186.68,180.82 186.76,180.79 186.85,180.77 186.93,180.74 187.01,180.71 187.08,180.69 187.16,180.66 187.24,180.63 187.32,180.61 187.4,180.58 187.48,180.55 187.56,180.53 187.63,180.5 187.71,180.48 187.79,180.45 187.87,180.42 187.94,180.4 188.02,180.37 188.1,180.35 188.17,180.32 188.25,180.29 188.32,180.27 188.4,180.24 188.47,180.22 188.55,180.19 188.62,180.17 188.7,180.14 188.77,180.12 188.85,180.09 188.92,180.07 188.99,180.04 189.07,180.02 189.14,179.99 189.21,179.97 189.28,179.95 189.36,179.92 189.43,179.9 189.5,179.87 189.57,179.85 189.64,179.82 189.71,179.8 189.79,179.78 189.86,179.75 189.93,179.73 190,179.7 190.07,179.68 190.14,179.66 190.21,179.63 190.28,179.61 190.35,179.59 190.41,179.56 190.48,179.54 190.55,179.52 190.62,179.49 190.69,179.47 190.76,179.45 190.82,179.43 190.89,179.4 190.96,179.38 191.03,179.36 191.09,179.33 191.16,179.31 191.23,179.29 191.29,179.27 191.36,179.24 191.43,179.22 191.49,179.2 191.56,179.18 191.62,179.16 191.69,179.13 191.75,179.11 191.82,179.09 191.88,179.07 191.95,179.05 192.01,179.02 192.08,179 192.14,178.98 192.21,178.96 192.27,178.94 192.33,178.92 192.4,178.9 192.46,178.87 192.52,178.85 192.59,178.83 192.65,178.81 192.71,178.79 192.77,178.77 192.84,178.75 192.9,178.73 192.96,178.71 193.02,178.68 193.08,178.66 193.15,178.64 193.21,178.62 193.27,178.6 193.33,178.58 193.39,178.56 193.45,178.54 193.51,178.52 193.57,178.5 193.63,178.48 193.69,178.46 193.75,178.44 193.81,178.42 193.87,178.4 193.93,178.38 193.99,178.36 194.05,178.34 194.11,178.32 194.17,178.3 194.22,178.28 194.28,178.26 194.34,178.24 194.4,178.22 194.46,178.2 194.52,178.18 194.57,178.16 194.63,178.14 194.69,178.12 194.75,178.1 194.8,178.08 194.86,178.06 194.92,178.05 194.97,178.03 195.03,178.01 195.09,177.99 195.14,177.97 195.2,177.95 195.26,177.93 195.31,177.91 195.37,177.89 195.42,177.87 195.48,177.86 195.53,177.84 195.59,177.82 195.65,177.8 195.7,177.78 195.76,177.76 195.81,177.74 195.86,177.73 195.92,177.71 195.97,177.69 196.03,177.67 196.08,177.65 196.14,177.63 196.19,177.62 196.24,177.6 196.3,177.58 196.35,177.56 196.4,177.54 196.46,177.53 196.51,177.51 196.56,177.49 196.62,177.47 196.67,177.45 196.72,177.44 196.78,177.42 196.83,177.4 196.88,177.38 196.93,177.37 196.98,177.35 197.04,177.33 197.09,177.31 197.14,177.3 197.19,177.28 197.24,177.26 197.3,177.24 197.35,177.23 197.4,177.21 197.45,177.19 197.5,177.17 197.55,177.16 197.6,177.14 197.65,177.12 197.7,177.11 197.75,177.09 197.8,177.07 197.85,177.06 197.9,177.04 197.95,177.02 198,177 198.05,176.99 198.1,176.97 198.15,176.95 198.2,176.94 198.25,176.92 198.3,176.9 198.35,176.89 198.4,176.87 198.45,176.85 198.5,176.84 198.55,176.82 198.59,176.81 198.64,176.79 198.69,176.77 198.74,176.76 198.79,176.74 198.84,176.72 198.88,176.71 198.93,176.69 198.98,176.68 199.03,176.66 199.08,176.64 199.12,176.63 199.17,176.61 199.22,176.6 199.27,176.58 199.31,176.56 199.36,176.55 199.41,176.53 199.45,176.52 199.5,176.5" fill="none" stroke="none" marker-start="url(#mp)" marker-mid="url(#mp)" marker-end="url(#mp)"/>
<polyline points="54.21,231.8 70.41,226.37 79.89,223.19 86.62,220.94 91.83,219.19 96.1,217.76 99.7,216.55 102.82,215.5 105.58,214.58 108.04,213.76 110.27,213.01 112.3,212.33 114.17,211.7 115.91,211.12 117.52,210.58 119.03,210.07 120.44,209.6 121.78,209.15 123.05,208.73 124.24,208.32 125.38,207.94 126.47,207.58 127.51,207.23 128.51,206.9 129.46,206.58 130.38,206.27 131.26,205.97 132.11,205.69 132.93,205.41 133.72,205.15 134.49,204.89 135.23,204.64 135.95,204.4 136.65,204.17 137.33,203.94 137.99,203.72 138.63,203.5 139.25,203.29 139.86,203.09 140.45,202.89 141.03,202.7 141.59,202.51 142.14,202.33 142.68,202.15 143.2,201.97 143.72,201.8 144.22,201.63 144.71,201.46 145.19,201.3 145.67,201.14 146.13,200.99 146.58,200.84 147.03,200.69 147.47,200.54 147.89,200.4 148.32,200.26 148.73,200.12 149.14,199.98 149.54,199.85 149.93,199.72 150.32,199.59 150.7,199.46 151.07,199.33 151.44,199.21 151.8,199.09 152.16,198.97 152.51,198.85 152.86,198.73 153.2,198.62 153.53,198.51 153.86,198.4 154.19,198.29 154.51,198.18 154.83,198.07 155.15,197.97 155.46,197.86 155.76,197.76 156.06,197.66 156.36,197.56 156.66,197.46 156.95,197.36 157.23,197.27 157.52,197.17 157.8,197.08 158.07,196.99 158.35,196.89 158.62,196.8 158.88,196.71 159.15,196.63 159.41,196.54 159.67,196.45 159.92,196.37 160.18,196.28 160.43,196.2 160.67,196.11 160.92,196.03 161.16,195.95 161.4,195.87 161.64,195.79 161.87,195.71 162.1,195.63 162.34,195.56 162.56,195.48 162.79,195.4 163.01,195.33 163.23,195.26 163.45,195.18 163.67,195.11 163.89,195.04 164.1,194.97 164.31,194.89 164.52,194.82 164.73,194.75 164.94,194.69 165.14,194.62 165.34,194.55 165.54,194.48 165.74,194.42 165.94,194.35 166.13,194.28 166.33,194.22 166.52,194.15 166.71,194.09 166.9,194.03 167.09,193.96 167.28,193.9 167.46,193.84 167.64,193.78 167.83,193.72 168.01,193.66 168.19,193.6 168.36,193.54 168.54,193.48 168.71,193.42 168.89,193.36 169.06,193.3 169.23,193.25 169.4,193.19 169.57,193.13 169.74,193.08 169.91,193.02 170.07,192.96 170.23,192.91 170.4,192.85 170.56,192.8 170.72,192.75 170.88,192.69 171.04,192.64 171.2,192.59 171.35,192.53 171.51,192.48 171.66,192.43 171.81,192.38 171.97,192.33 172.12,192.28 172.27,192.23 172.42,192.18 172.57,192.13 172.71,192.08 172.86,192.03 173.01,191.98 173.15,191.93 173.29,191.88 173.44,191.84 173.58,191.79 173.72,191.74 173.86,191.69 174,191.65 174.14,191.6 174.28,191.55 174.42,191.51 174.55,191.46 174.69,191.42 174.82,191.37 174.96,191.33 175.09,191.28 175.22,191.24 175.35,191.19 175.48,191.15 175.61,191.11 175.74,191.06 175.87,191.02 176,190.98 176.13,190.93 176.25,190.89 176.38,190.85 176.51,190.81 176.63,190.77 176.75,190.72 176.88,190.68 177,190.64 177.12,190.6 177.24,190.56 177.37,190.52 177.49,190.48 177.61,190.44 177.72,190.4 177.84,190.36 177.96,190.32 178.08,190.28 178.19,190.24 178.31,190.2 178.43,190.16 178.54,190.13 178.65,190.09 178.77,190.05 178.88,190.01 178.99,189.97 179.11,189.94 179.22,189.9 179.33,189.86 179.44,189.82 179.55,189.79 179.66,189.75 179.77,189.71 179.88,189.68 179.98,189.64 180.09,189.61 180.2,189.57 180.31,189.53 180.41,189.5 180.52,189.46 180.62,189.43 180.73,189.39 180.83,189.36 180.93,189.32 181.04,189.29 181.14,189.25 181.24,189.22 181.35,189.19 181.45,189.15 181.55,189.12 181.65,189.08 181.75,189.05 181.85,189.02 181.95,188.98 182.05,188.95 182.14,188.92 182.24,188.88 182.34,188.85 182.44,188.82 182.53,188.79 182.63,188.75 182.73,188.72 182.82,188.69 182.92,188.66 183.01,188.63 183.11,188.59 183.2,188.56 183.29,188.53 183.39,188.5 183.48,188.47 183.57,188.44 183.67,188.41 183.76,188.38 183.85,188.35 183.94,188.32 184.03,188.28 184.12,188.25 184.21,188.22 184.3,188.19 184.39,188.16 184.48,188.13 184.57,188.1 184.66,188.08 184.74,188.05 184.83,188.02 184.92,187.99 185.01,187.96 185.09,187.93 185.18,187.9 185.27,187.87 185.35,187.84 185.44,187.81 185.52,187.78 185.61,187.76 185.69,187.73 185.78,187.7 185.86,187.67 185.94,187.64 186.03,187.62 186.11,187.59 186.19,187.56 186.28,187.53 186.36,187.5 186.44,187.48 186.52,187.45 186.6,187.42 186.68,187.4 186.76,187.37 186.85,187.34 186.93,187.31 187.01,187.29 187.08,187.26 187.16,187.23 187.24,187.21 187.32,187.18 187.4,187.16 187.48,187.13 187.56,187.1 187.63,187.08 187.71,187.05 187.79,187.03 187.87,187 187.94,186.97 188.02,186.95 188.1,186.92 188.17,186.9 188.25,186.87 188.32,186.85 188.4,186.82 188.47,186.8 188.55,186.77 188.62,186.75 188.7,186.72 188.77,186.7 188.85,186.67 188.92,186.65 188.99,186.62 189.07,186.6 189.14,186.57 189.21,186.55 189.28,186.52 189.36,186.5 189.43,186.48 189.5,186.45 189.57,186.43 189.64,186.4 189.71,186.38 189.79,186.36 189.86,186.33 189.93,186.31 190,186.29 190.07,186.26 190.14,186.24 190.21,186.21 190.28,186.19 190.35,186.17 190.41,186.15 190.48,186.12 190.55,186.1 190.62,186.08 190.69,186.05 190.76,186.03 190.82,186.01 190.89,185.99 190.96,185.96 191.03,185.94 191.09,185.92 191.16,185.9 191.23,185.87 191.29,185.85 191.36,185.83 191.43,185.81 191.49,185.78 191.56,185.76 191.62,185.74 191.69,185.72 191.75,185.7 191.82,185.67 191.88,185.65 191.95,185.63 192.01,185.61 192.08,185.59 192.14,185.57 192.21,185.54 192.27,185.52 192.33,185.5 192.4,185.48 192.46,185.46 192.52,185.44 192.59,185.42 192.65,185.4 192.71,185.38 192.77,185.35 192.84,185.33 192.9,185.31 192.96,185.29 193.02,185.27 193.08,185.25 193.15,185.23 193.21,185.21 193.27,185.19 193.33,185.17 193.39,185.15 193.45,185.13 193.51,185.11 193.57,185.09 193.63,185.07 193.69,185.05 193.75,185.03 193.81,185.01 193.87,184.99 193.93,184.97 193.99,184.95 194.05,184.93 194.11,184.91 194.17,184.89 194.22,184.87 194.28,184.85 194.34,184.83 194.4,184.81 194.46,184.79 194.52,184.77 194.57,184.75 194.63,184.73 194.69,184.71 194.75,184.69 194.8,184.67 194.86,184.66 194.92,184.64 194.97,184.62 195.03,184.6 195.09,184.58 195.14,184.56 195.2,184.54 195.26,184.52 195.31,184.5 195.37,184.48 195.42,184.47 195.48,184.45 195.53,184.43 195.59,184.41 195.65,184.39 195.7,184.37 195.76,184.36 195.81,184.34 195.86,184.32 195.92,184.3 195.97,184.28 196.03,184.26 196.08,184.25 196.14,184.23 196.19,184.21 196.24,184.19 196.3,184.17 196.35,184.16 196.4,184.14 196.46,184.12 196.51,184.1 196.56,184.08 196.62,184.07 196.67,184.05 196.72,184.03 196.78,184.01 196.83,184 196.88,183.98 196.93,183.96 196.98,183.94 197.04,183.93 197.09,183.91 197.14,183.89 197.19,183.87 197.24,183.86 197.3,183.84 197.35,183.82 197.4,183.8 197.45,183.79 197.5,183.77 197.55,183.75 197.6,183.74 197.65,183.72 197.7,183.7 197.75,183.69 197.8,183.67 197.85,183.65 197.9,183.64 197.95,183.62 198,183.6 198.05,183.58 198.1,183.57 198.15,183.55 198.2,183.54 198.25,183.52 198.3,183.5 198.35,183.49 198.4,183.47 198.45,183.45 198.5,183.44 198.55,183.42 198.59,183.4 198.64,183.39 198.69,183.37 198.74,183.35 198.79,183.34 198.84,183.32 198.88,183.31 198.93,183.29 198.98,183.27 199.03,183.26 199.08,183.24 199.12,183.23 199.17,183.21 199.22,183.19 199.27,183.18 199.31,183.16 199.36,183.15 199.41,183.13 199.45,183.12 199.5,183.1" fill="none" stroke="none" marker-start="url(#mx)" marker-mid="url(#mx)" marker-end="url(#mx)"/>
<polyline points="54.21,238.3 70.41,232.77 79.89,229.53 86.62,227.24 91.83,225.45 96.1,224 99.7,222.77 102.82,221.7 105.58,220.76 108.04,219.92 110.27,219.16 112.3,218.47 114.17,217.83 115.91,217.24 117.52,216.69 119.03,216.17 120.44,215.69 121.78,215.23 123.05,214.8 124.24,214.39 125.38,214 126.47,213.63 127.51,213.28 128.51,212.94 129.46,212.61 130.38,212.3 131.26,212 132.11,211.71 132.93,211.42 133.72,211.15 134.49,210.89 135.23,210.64 135.95,210.39 136.65,210.16 137.33,209.92 137.99,209.7 138.63,209.48 139.25,209.27 139.86,209.06 140.45,208.86 141.03,208.66 141.59,208.47 142.14,208.28 142.68,208.1 143.2,207.92 143.72,207.74 144.22,207.57 144.71,207.4 145.19,207.24 145.67,207.08 146.13,206.92 146.58,206.76 147.03,206.61 147.47,206.46 147.89,206.32 148.32,206.17 148.73,206.03 149.14,205.89 149.54,205.76 149.93,205.62 150.32,205.49 150.7,205.36 151.07,205.23 151.44,205.11 151.8,204.98 152.16,204.86 152.51,204.74 152.86,204.62 153.2,204.51 153.53,204.39 153.86,204.28 154.19,204.17 154.51,204.06 154.83,203.95 155.15,203.84 155.46,203.74 155.76,203.63 156.06,203.53 156.36,203.43 156.66,203.33 156.95,203.23 157.23,203.13 157.52,203.03 157.8,202.94 158.07,202.84 158.35,202.75 158.62,202.66 158.88,202.57 159.15,202.48 159.41,202.39 159.67,202.3 159.92,202.21 160.18,202.12 160.43,202.04 160.67,201.95 160.92,201.87 161.16,201.79 161.4,201.71 161.64,201.63 161.87,201.55 162.1,201.47 162.34,201.39 162.56,201.31 162.79,201.23 163.01,201.16 163.23,201.08 163.45,201.01 163.67,200.93 163.89,200.86 164.1,200.78 164.31,200.71 164.52,200.64 164.73,200.57 164.94,200.5 165.14,200.43 165.34,200.36 165.54,200.29 165.74,200.22 165.94,200.16 166.13,200.09 166.33,200.02 166.52,199.96 166.71,199.89 166.9,199.83 167.09,199.76 167.28,199.7 167.46,199.64 167.64,199.57 167.83,199.51 168.01,199.45 168.19,199.39 168.36,199.33 168.54,199.27 168.71,199.21 168.89,199.15 169.06,199.09 169.23,199.03 169.4,198.97 169.57,198.92 169.74,198.86 169.91,198.8 170.07,198.75 170.23,198.69 170.4,198.63 170.56,198.58 170.72,198.52 170.88,198.47 171.04,198.42 171.2,198.36 171.35,198.31 171.51,198.26 171.66,198.2 171.81,198.15 171.97,198.1 172.12,198.05 172.27,198 172.42,197.95 172.57,197.89 172.71,197.84 172.86,197.79 173.01,197.74 173.15,197.69 173.29,197.65 173.44,197.6 173.58,197.55 173.72,197.5 173.86,197.45 174,197.4 174.14,197.36 174.28,197.31 174.42,197.26 174.55,197.22 174.69,197.17 174.82,197.12 174.96,197.08 175.09,197.03 175.22,196.99 175.35,196.94 175.48,196.9 175.61,196.85 175.74,196.81 175.87,196.77 176,196.72 176.13,196.68 176.25,196.64 176.38,196.59 176.51,196.55 176.63,196.51 176.75,196.46 176.88,196.42 177,196.38 177.12,196.34 177.24,196.3 177.37,196.26 177.49,196.22 177.61,196.17 177.72,196.13 177.84,196.09 177.96,196.05 178.08,196.01 178.19,195.97 178.31,195.93 178.43,195.89 178.54,195.86 178.65,195.82 178.77,195.78 178.88,195.74 178.99,195.7 179.11,195.66 179.22,195.62 179.33,195.59 179.44,195.55 179.55,195.51 179.66,195.47 179.77,195.44 179.88,195.4 179.98,195.36 180.09,195.33 180.2,195.29 180.31,195.25 180.41,195.22 180.52,195.18 180.62,195.14 180.73,195.11 180.83,195.07 180.93,195.04 181.04,195 181.14,194.97 181.24,194.93 181.35,194.9 181.45,194.86 181.55,194.83 181.65,194.79 181.75,194.76 181.85,194.73 181.95,194.69 182.05,194.66 182.14,194.62 182.24,194.59 182.34,194.56 182.44,194.52 182.53,194.49 182.63,194.46 182.73,194.43 182.82,194.39 182.92,194.36 183.01,194.33 183.11,194.3 183.2,194.26 183.29,194.23 183.39,194.2 183.48,194.17 183.57,194.14 183.67,194.11 183.76,194.07 183.85,194.04 183.94,194.01 184.03,193.98 184.12,193.95 184.21,193.92 184.3,193.89 184.39,193.86 184.48,193.83 184.57,193.8 184.66,193.77 184.74,193.74 184.83,193.71 184.92,193.68 185.01,193.65 185.09,193.62 185.18,193.59 185.27,193.56 185.35,193.53 185.44,193.5 185.52,193.47 185.61,193.44 185.69,193.41 185.78,193.38 185.86,193.36 185.94,193.33 186.03,193.3 186.11,193.27 186.19,193.24 186.28,193.21 186.36,193.19 186.44,193.16 186.52,193.13 186.6,193.1 186.68,193.08 186.76,193.05 186.85,193.02 186.93,192.99 187.01,192.97 187.08,192.94 187.16,192.91 187.24,192.88 187.32,192.86 187.4,192.83 187.48,192.8 187.56,192.78 187.63,192.75 187.71,192.72 187.79,192.7 187.87,192.67 187.94,192.65 188.02,192.62 188.1,192.59 188.17,192.57 188.25,192.54 188.32,192.52 188.4,192.49 188.47,192.46 188.55,192.44 188.62,192.41 188.7,192.39 188.77,192.36 188.85,192.34 188.92,192.31 188.99,192.29 189.07,192.26 189.14,192.24 189.21,192.21 189.28,192.19 189.36,192.16 189.43,192.14 189.5,192.11 189.57,192.09 189.64,192.06 189.71,192.04 189.79,192.02 189.86,191.99 189.93,191.97 190,191.94 190.07,191.92 190.14,191.9 190.21,191.87 190.28,191.85 190.35,191.83 190.41,191.8 190.48,191.78 190.55,191.75 190.62,191.73 190.69,191.71 190.76,191.68 190.82,191.66 190.89,191.64 190.96,191.62 191.03,191.59 191.09,191.57 191.16,191.55 191.23,191.52 191.29,191.5 191.36,191.48 191.43,191.46 191.49,191.43 191.56,191.41 191.62,191.39 191.69,191.37 191.75,191.34 191.82,191.32 191.88,191.3 191.95,191.28 192.01,191.26 192.08,191.23 192.14,191.21 192.21,191.19 192.27,191.17 192.33,191.15 192.4,191.12 192.46,191.1 192.52,191.08 192.59,191.06 192.65,191.04 192.71,191.02 192.77,191 192.84,190.97 192.9,190.95 192.96,190.93 193.02,190.91 193.08,190.89 193.15,190.87 193.21,190.85 193.27,190.83 193.33,190.81 193.39,190.79 193.45,190.77 193.51,190.74 193.57,190.72 193.63,190.7 193.69,190.68 193.75,190.66 193.81,190.64 193.87,190.62 193.93,190.6 193.99,190.58 194.05,190.56 194.11,190.54 194.17,190.52 194.22,190.5 194.28,190.48 194.34,190.46 194.4,190.44 194.46,190.42 194.52,190.4 194.57,190.38 194.63,190.36 194.69,190.34 194.75,190.32 194.8,190.3 194.86,190.28 194.92,190.26 194.97,190.25 195.03,190.23 195.09,190.21 195.14,190.19 195.2,190.17 195.26,190.15 195.31,190.13 195.37,190.11 195.42,190.09 195.48,190.07 195.53,190.05 195.59,190.03 195.65,190.02 195.7,190 195.76,189.98 195.81,189.96 195.86,189.94 195.92,189.92 195.97,189.9 196.03,189.89 196.08,189.87 196.14,189.85 196.19,189.83 196.24,189.81 196.3,189.79 196.35,189.77 196.4,189.76 196.46,189.74 196.51,189.72 196.56,189.7 196.62,189.68 196.67,189.67 196.72,189.65 196.78,189.63 196.83,189.61 196.88,189.59 196.93,189.58 196.98,189.56 197.04,189.54 197.09,189.52 197.14,189.51 197.19,189.49 197.24,189.47 197.3,189.45 197.35,189.44 197.4,189.42 197.45,189.4 197.5,189.38 197.55,189.37 197.6,189.35 197.65,189.33 197.7,189.31 197.75,189.3 197.8,189.28 197.85,189.26 197.9,189.24 197.95,189.23 198,189.21 198.05,189.19 198.1,189.18 198.15,189.16 198.2,189.14 198.25,189.13 198.3,189.11 198.35,189.09 198.4,189.08 198.45,189.06 198.5,189.04 198.55,189.03 198.59,189.01 198.64,188.99 198.69,188.98 198.74,188.96 198.79,188.94 198.84,188.93 198.88,188.91 198.93,188.89 198.98,188.88 199.03,188.86 199.08,188.84 199.12,188.83 199.17,188.81 199.22,188.8 199.27,188.78 199.31,188.76 199.36,188.75 199.41,188.73 199.45,188.72 199.5,188.7" fill="none" stroke="none" marker-start="url(#mo)" marker-mid="url(#mo)" marker-end="url(#mo)"/>
<polyline points="54.21,247.1 70.41,241.67 79.89,238.49 86.62,236.24 91.83,234.49 96.1,233.06 99.7,231.85 102.82,230.8 105.58,229.88 108.04,229.06 110.27,228.31 112.3,227.63 114.17,227 115.91,226.42 117.52,225.88 119.03,225.37 120.44,224.9 121.78,224.45 123.05,224.03 124.24,223.62 125.38,223.24 126.47,222.88 127.51,222.53 128.51,222.2 129.46,221.88 130.38,221.57 131.26,221.27 132.11,220.99 132.93,220.71 133.72,220.45 134.49,220.19 135.23,219.94 135.95,219.7 136.65,219.47 137.33,219.24 137.99,219.02 138.63,218.8 139.25,218.59 139.86,218.39 140.45,218.19 141.03,218 141.59,217.81 142.14,217.63 142.68,217.45 143.2,217.27 143.72,217.1 144.22,216.93 144.71,216.76 145.19,216.6 145.67,216.44 146.13,216.29 146.58,216.14 147.03,215.99 147.47,215.84 147.89,215.7 148.32,215.56 148.73,215.42 149.14,215.28 149.54,215.15 149.93,215.02 150.32,214.89 150.7,214.76 151.07,214.63 151.44,214.51 151.8,214.39 152.16,214.27 152.51,214.15 152.86,214.03 153.2,213.92 153.53,213.81 153.86,213.7 154.19,213.59 154.51,213.48 154.83,213.37 155.15,213.27 155.46,213.16 155.76,213.06 156.06,212.96 156.36,212.86 156.66,212.76 156.95,212.66 157.23,212.57 157.52,212.47 157.8,212.38 158.07,212.29 158.35,212.19 158.62,212.1 158.88,212.01 159.15,211.93 159.41,211.84 159.67,211.75 159.92,211.67 160.18,211.58 160.43,211.5 160.67,211.41 160.92,211.33 161.16,211.25 161.4,211.17 161.64,211.09 161.87,211.01 162.1,210.93 162.34,210.86 162.56,210.78 162.79,210.7 163.01,210.63 163.23,210.56 163.45,210.48 163.67,210.41 163.89,210.34 164.1,210.27 164.31,210.19 164.52,210.12 164.73,210.05 164.94,209.99 165.14,209.92 165.34,209.85 165.54,209.78 165.74,209.72 165.94,209.65 166.13,209.58 166.33,209.52 166.52,209.45 166.71,209.39 166.9,209.33 167.09,209.26 167.28,209.2 167.46,209.14 167.64,209.08 167.83,209.02 168.01,208.96 168.19,208.9 168.36,208.84 168.54,208.78 168.71,208.72 168.89,208.66 169.06,208.6 169.23,208.55 169.4,208.49 169.57,208.43 169.74,208.38 169.91,208.32 170.07,208.26 170.23,208.21 170.4,208.15 170.56,208.1 170.72,208.05 170.88,207.99 171.04,207.94 171.2,207.89 171.35,207.83 171.51,207.78 171.66,207.73 171.81,207.68 171.97,207.63 172.12,207.58 172.27,207.53 172.42,207.48 172.57,207.43 172.71,207.38 172.86,207.33 173.01,207.28 173.15,207.23 173.29,207.18 173.44,207.14 173.58,207.09 173.72,207.04 173.86,206.99 174,206.95 174.14,206.9 174.28,206.85 174.42,206.81 174.55,206.76 174.69,206.72 174.82,206.67 174.96,206.63 175.09,206.58 175.22,206.54 175.35,206.49 175.48,206.45 175.61,206.41 175.74,206.36 175.87,206.32 176,206.28 176.13,206.23 176.25,206.19 176.38,206.15 176.51,206.11 176.63,206.07 176.75,206.02 176.88,205.98 177,205.94 177.12,205.9 177.24,205.86 177.37,205.82 177.49,205.78 177.61,205.74 177.72,205.7 177.84,205.66 177.96,205.62 178.08,205.58 178.19,205.54 178.31,205.5 178.43,205.46 178.54,205.43 178.65,205.39 178.77,205.35 178.88,205.31 178.99,205.27 179.11,205.24 179.22,205.2 179.33,205.16 179.44,205.12 179.55,205.09 179.66,205.05 179.77,205.01 179.88,204.98 179.98,204.94 180.09,204.91 180.2,204.87 180.31,204.83 180.41,204.8 180.52,204.76 180.62,204.73 180.73,204.69 180.83,204.66 180.93,204.62 181.04,204.59 181.14,204.55 181.24,204.52 181.35,204.49 181.45,204.45 181.55,204.42 181.65,204.38 181.75,204.35 181.85,204.32 181.95,204.28 182.05,204.25 182.14,204.22 182.24,204.18 182.34,204.15 182.44,204.12 182.53,204.09 182.63,204.05 182.73,204.02 182.82,203.99 182.92,203.96 183.01,203.93 183.11,203.89 183.2,203.86 183.29,203.83 183.39,203.8 183.48,203.77 183.57,203.74 183.67,203.71 183.76,203.68 183.85,203.65 183.94,203.62 184.03,203.58 184.12,203.55 184.21,203.52 184.3,203.49 184.39,203.46 184.48,203.43 184.57,203.4 184.66,203.38 184.74,203.35 184.83,203.32 184.92,203.29 185.01,203.26 185.09,203.23 185.18,203.2 185.27,203.17 185.35,203.14 185.44,203.11 185.52,203.08 185.61,203.06 185.69,203.03 185.78,203 185.86,202.97 185.94,202.94 186.03,202.92 186.11,202.89 186.19,202.86 186.28,202.83 186.36,202.8 186.44,202.78 186.52,202.75 186.6,202.72 186.68,202.7 186.76,202.67 186.85,202.64 186.93,202.61 187.01,202.59 187.08,202.56 187.16,202.53 187.24,202.51 187.32,202.48 187.4,202.46 187.48,202.43 187.56,202.4 187.63,202.38 187.71,202.35 187.79,202.33 187.87,202.3 187.94,202.27 188.02,202.25 188.1,202.22 188.17,202.2 188.25,202.17 188.32,202.15 188.4,202.12 188.47,202.1 188.55,202.07 188.62,202.05 188.7,202.02 188.77,202 188.85,201.97 188.92,201.95 188.99,201.92 189.07,201.9 189.14,201.87 189.21,201.85 189.28,201.82 189.36,201.8 189.43,201.78 189.5,201.75 189.57,201.73 189.64,201.7 189.71,201.68 189.79,201.66 189.86,201.63 189.93,201.61 190,201.59 190.07,201.56 190.14,201.54 190.21,201.51 190.28,201.49 190.35,201.47 190.41,201.45 190.48,201.42 190.55,201.4 190.62,201.38 190.69,201.35 190.76,201.33 190.82,201.31 190.89,201.29 190.96,201.26 191.03,201.24 191.09,201.22 191.16,201.2 191.23,201.17 191.29,201.15 191.36,201.13 191.43,201.11 191.49,201.08 191.56,201.06 191.62,201.04 191.69,201.02 191.75,201 191.82,200.97 191.88,200.95 191.95,200.93 192.01,200.91 192.08,200.89 192.14,200.87 192.21,200.84 192.27,200.82 192.33,200.8 192.4,200.78 192.46,200.76 192.52,200.74 192.59,200.72 192.65,200.7 192.71,200.68 192.77,200.65 192.84,200.63 192.9,200.61 192.96,200.59 193.02,200.57 193.08,200.55 193.15,200.53 193.21,200.51 193.27,200.49 193.33,200.47 193.39,200.45 193.45,200.43 193.51,200.41 193.57,200.39 193.63,200.37 193.69,200.35 193.75,200.33 193.81,200.31 193.87,200.29 193.93,200.27 193.99,200.25 194.05,200.23 194.11,200.21 194.17,200.19 194.22,200.17 194.28,200.15 194.34,200.13 194.4,200.11 194.46,200.09 194.52,200.07 194.57,200.05 194.63,200.03 194.69,200.01 194.75,199.99 194.8,199.97 194.86,199.96 194.92,199.94 194.97,199.92 195.03,199.9 195.09,199.88 195.14,199.86 195.2,199.84 195.26,199.82 195.31,199.8 195.37,199.78 195.42,199.77 195.48,199.75 195.53,199.73 195.59,199.71 195.65,199.69 195.7,199.67 195.76,199.66 195.81,199.64 195.86,199.62 195.92,199.6 195.97,199.58 196.03,199.56 196.08,199.55 196.14,199.53 196.19,199.51 196.24,199.49 196.3,199.47 196.35,199.46 196.4,199.44 196.46,199.42 196.51,199.4 196.56,199.38 196.62,199.37 196.67,199.35 196.72,199.33 196.78,199.31 196.83,199.3 196.88,199.28 196.93,199.26 196.98,199.24 197.04,199.23 197.09,199.21 197.14,199.19 197.19,199.17 197.24,199.16 197.3,199.14 197.35,199.12 197.4,199.1 197.45,199.09 197.5,199.07 197.55,199.05 197.6,199.04 197.65,199.02 197.7,199 197.75,198.99 197.8,198.97 197.85,198.95 197.9,198.94 197.95,198.92 198,198.9 198.05,198.88 198.1,198.87 198.15,198.85 198.2,198.84 198.25,198.82 198.3,198.8 198.35,198.79 198.4,198.77 198.45,198.75 198.5,198.74 198.55,198.72 198.59,198.7 198.64,198.69 198.69,198.67 198.74,198.65 198.79,198.64 198.84,198.62 198.88,198.61 198.93,198.59 198.98,198.57 199.03,198.56 199.08,198.54 199.12,198.53 199.17,198.51 199.22,198.49 199.27,198.48 199.31,198.46 199.36,198.45 199.41,198.43 199.45,198.42 199.5,198.4" fill="none" stroke="none" marker-start="url(#ms)" marker-mid="url(#ms)" marker-end="url(#ms)"/>
<path d="M54.21 229.7L199.5 180.1" stroke="#000" stroke-width="0.9" fill="none"/>
<rect x="38" y="165.6" width="161.5" height="117.5" stroke="#000" stroke-width="1.0" fill="none"/>
<text x="32.3" y="287.5" text-anchor="end" font-size="11.1">10<tspan dy="-5.2" font-size="8.7">-1</tspan></text>
<text x="32.3" y="258.12" text-anchor="end" font-size="11.1">10<tspan dy="-5.2" font-size="8.7">0</tspan></text>
<text x="32.3" y="228.75" text-anchor="end" font-size="11.1">10<tspan dy="-5.2" font-size="8.7">1</tspan></text>
<text x="32.3" y="199.38" text-anchor="end" font-size="11.1">10<tspan dy="-5.2" font-size="8.7">2</tspan></text>
<text x="32.3" y="170" text-anchor="end" font-size="11.1">10<tspan dy="-5.2" font-size="8.7">3</tspan></text>
<text x="38" y="298.9" text-anchor="middle" font-size="11.1">10<tspan dy="-5.2" font-size="8.7">1</tspan></text>
<text x="91.83" y="298.9" text-anchor="middle" font-size="11.1">10<tspan dy="-5.2" font-size="8.7">2</tspan></text>
<text x="145.67" y="298.9" text-anchor="middle" font-size="11.1">10<tspan dy="-5.2" font-size="8.7">3</tspan></text>
<text x="199.5" y="298.9" text-anchor="middle" font-size="11.1">10<tspan dy="-5.2" font-size="8.7">4</tspan></text>
<text x="119.05" y="306.2" text-anchor="middle" font-size="11.2" font-weight="bold" style="stroke:none">t</text>
<text x="43.7" y="177.2" font-size="10.6" letter-spacing="0.2" style="stroke-width:0.4px">ν=1 α=1.6</text>
<text transform="translate(11.9 224.35) rotate(-90)" font-size="12.6" x="-5.1" y="0" style="stroke-width:0.3px">q<tspan dy="3" font-size="3.3" letter-spacing="0.35" style="stroke-width:0.25px">max</tspan></text>
</g>
<g>
<path d="M272.21 283.1v-2M272.21 165.6v2M281.69 283.1v-2M281.69 165.6v2M288.41 283.1v-2M288.41 165.6v2M293.63 283.1v-2M293.63 165.6v2M297.89 283.1v-2M297.89 165.6v2M301.49 283.1v-2M301.49 165.6v2M304.62 283.1v-2M304.62 165.6v2M307.37 283.1v-2M307.37 165.6v2M309.83 283.1v-4.2M309.83 165.6v4.2M326.04 283.1v-2M326.04 165.6v2M335.52 283.1v-2M335.52 165.6v2M342.24 283.1v-2M342.24 165.6v2M347.46 283.1v-2M347.46 165.6v2M351.72 283.1v-2M351.72 165.6v2M355.33 283.1v-2M355.33 165.6v2M358.45 283.1v-2M358.45 165.6v2M361.2 283.1v-2M361.2 165.6v2M363.67 283.1v-4.2M363.67 165.6v4.2M379.87 283.1v-2M379.87 165.6v2M389.35 283.1v-2M389.35 165.6v2M396.08 283.1v-2M396.08 165.6v2M401.29 283.1v-2M401.29 165.6v2M405.56 283.1v-2M405.56 165.6v2M409.16 283.1v-2M409.16 165.6v2M412.28 283.1v-2M412.28 165.6v2M415.04 283.1v-2M415.04 165.6v2M256 274.26h2M417.5 274.26h-2M256 269.08h2M417.5 269.08h-2M256 265.41h2M417.5 265.41h-2M256 262.57h2M417.5 262.57h-2M256 260.24h2M417.5 260.24h-2M256 258.28h2M417.5 258.28h-2M256 256.57h2M417.5 256.57h-2M256 255.07h2M417.5 255.07h-2M256 253.73h4.2M417.5 253.73h-4.2M256 244.88h2M417.5 244.88h-2M256 239.71h2M417.5 239.71h-2M256 236.04h2M417.5 236.04h-2M256 233.19h2M417.5 233.19h-2M256 230.87h2M417.5 230.87h-2M256 228.9h2M417.5 228.9h-2M256 227.2h2M417.5 227.2h-2M256 225.69h2M417.5 225.69h-2M256 224.35h4.2M417.5 224.35h-4.2M256 215.51h2M417.5 215.51h-2M256 210.33h2M417.5 210.33h-2M256 206.66h2M417.5 206.66h-2M256 203.82h2M417.5 203.82h-2M256 201.49h2M417.5 201.49h-2M256 199.53h2M417.5 199.53h-2M256 197.82h2M417.5 197.82h-2M256 196.32h2M417.5 196.32h-2M256 194.98h4.2M417.5 194.98h-4.2M256 186.13h2M417.5 186.13h-2M256 180.96h2M417.5 180.96h-2M256 177.29h2M417.5 177.29h-2M256 174.44h2M417.5 174.44h-2M256 172.12h2M417.5 172.12h-2M256 170.15h2M417.5 170.15h-2M256 168.45h2M417.5 168.45h-2M256 166.94h2M417.5 166.94h-2" stroke="#000" stroke-width="0.8" fill="none"/>
<polyline points="272.21,229.4 288.41,225.09 297.89,222.58 304.62,220.79 309.83,219.4 314.1,218.27 317.7,217.31 320.82,216.48 323.58,215.75 326.04,215.1 328.27,214.51 330.3,213.97 332.17,213.47 333.91,213.01 335.52,212.58 337.03,212.18 338.44,211.8 339.78,211.45 341.05,211.11 342.24,210.79 343.38,210.49 344.47,210.2 345.51,209.92 346.51,209.66 347.46,209.41 348.38,209.16 349.26,208.93 350.11,208.7 350.93,208.49 351.72,208.27 352.49,208.07 353.23,207.87 353.95,207.68 354.65,207.5 355.33,207.32 355.99,207.14 356.63,206.97 357.25,206.81 357.86,206.64 358.45,206.49 359.03,206.33 359.59,206.18 360.14,206.04 360.68,205.9 361.2,205.76 361.72,205.62 362.22,205.49 362.71,205.36 363.19,205.23 363.67,205.1 364.13,204.98 364.58,204.86 365.03,204.74 365.47,204.62 365.89,204.51 366.32,204.4 366.73,204.29 367.14,204.18 367.54,204.07 367.93,203.97 368.32,203.87 368.7,203.77 369.07,203.67 369.44,203.57 369.8,203.47 370.16,203.38 370.51,203.28 370.86,203.19 371.2,203.1 371.53,203.01 371.86,202.92 372.19,202.84 372.51,202.75 372.83,202.67 373.15,202.58 373.46,202.5 373.76,202.42 374.06,202.34 374.36,202.26 374.66,202.18 374.95,202.11 375.23,202.03 375.52,201.95 375.8,201.88 376.07,201.81 376.35,201.73 376.62,201.66 376.88,201.59 377.15,201.52 377.41,201.45 377.67,201.38 377.92,201.31 378.18,201.25 378.43,201.18 378.67,201.12 378.92,201.05 379.16,200.99 379.4,200.92 379.64,200.86 379.87,200.8 380.1,200.73 380.34,200.67 380.56,200.61 380.79,200.55 381.01,200.49 381.23,200.43 381.45,200.38 381.67,200.32 381.89,200.26 382.1,200.2 382.31,200.15 382.52,200.09 382.73,200.04 382.94,199.98 383.14,199.93 383.34,199.87 383.54,199.82 383.74,199.77 383.94,199.72 384.13,199.66 384.33,199.61 384.52,199.56 384.71,199.51 384.9,199.46 385.09,199.41 385.28,199.36 385.46,199.31 385.64,199.26 385.83,199.21 386.01,199.17 386.19,199.12 386.36,199.07 386.54,199.03 386.71,198.98 386.89,198.93 387.06,198.89 387.23,198.84 387.4,198.8 387.57,198.75 387.74,198.71 387.91,198.66 388.07,198.62 388.23,198.57 388.4,198.53 388.56,198.49 388.72,198.45 388.88,198.4 389.04,198.36 389.2,198.32 389.35,198.28 389.51,198.24 389.66,198.2 389.81,198.16 389.97,198.11 390.12,198.07 390.27,198.03 390.42,197.99 390.57,197.96 390.71,197.92 390.86,197.88 391.01,197.84 391.15,197.8 391.29,197.76 391.44,197.72 391.58,197.69 391.72,197.65 391.86,197.61 392,197.57 392.14,197.54 392.28,197.5 392.42,197.46 392.55,197.43 392.69,197.39 392.82,197.36 392.96,197.32 393.09,197.29 393.22,197.25 393.35,197.22 393.48,197.18 393.61,197.15 393.74,197.11 393.87,197.08 394,197.04 394.13,197.01 394.25,196.98 394.38,196.94 394.51,196.91 394.63,196.88 394.75,196.84 394.88,196.81 395,196.78 395.12,196.74 395.24,196.71 395.37,196.68 395.49,196.65 395.61,196.62 395.72,196.59 395.84,196.55 395.96,196.52 396.08,196.49 396.19,196.46 396.31,196.43 396.43,196.4 396.54,196.37 396.65,196.34 396.77,196.31 396.88,196.28 396.99,196.25 397.11,196.22 397.22,196.19 397.33,196.16 397.44,196.13 397.55,196.1 397.66,196.07 397.77,196.04 397.88,196.01 397.98,195.98 398.09,195.96 398.2,195.93 398.31,195.9 398.41,195.87 398.52,195.84 398.62,195.82 398.73,195.79 398.83,195.76 398.93,195.73 399.04,195.7 399.14,195.68 399.24,195.65 399.35,195.62 399.45,195.6 399.55,195.57 399.65,195.54 399.75,195.52 399.85,195.49 399.95,195.46 400.05,195.44 400.14,195.41 400.24,195.38 400.34,195.36 400.44,195.33 400.53,195.31 400.63,195.28 400.73,195.26 400.82,195.23 400.92,195.21 401.01,195.18 401.11,195.16 401.2,195.13 401.29,195.11 401.39,195.08 401.48,195.06 401.57,195.03 401.67,195.01 401.76,194.98 401.85,194.96 401.94,194.93 402.03,194.91 402.12,194.89 402.21,194.86 402.3,194.84 402.39,194.81 402.48,194.79 402.57,194.77 402.66,194.74 402.74,194.72 402.83,194.7 402.92,194.67 403.01,194.65 403.09,194.63 403.18,194.6 403.27,194.58 403.35,194.56 403.44,194.54 403.52,194.51 403.61,194.49 403.69,194.47 403.78,194.45 403.86,194.42 403.94,194.4 404.03,194.38 404.11,194.36 404.19,194.34 404.28,194.31 404.36,194.29 404.44,194.27 404.52,194.25 404.6,194.23 404.68,194.2 404.76,194.18 404.85,194.16 404.93,194.14 405.01,194.12 405.08,194.1 405.16,194.08 405.24,194.06 405.32,194.04 405.4,194.01 405.48,193.99 405.56,193.97 405.63,193.95 405.71,193.93 405.79,193.91 405.87,193.89 405.94,193.87 406.02,193.85 406.1,193.83 406.17,193.81 406.25,193.79 406.32,193.77 406.4,193.75 406.47,193.73 406.55,193.71 406.62,193.69 406.7,193.67 406.77,193.65 406.85,193.63 406.92,193.61 406.99,193.59 407.07,193.57 407.14,193.55 407.21,193.53 407.28,193.51 407.36,193.49 407.43,193.48 407.5,193.46 407.57,193.44 407.64,193.42 407.71,193.4 407.79,193.38 407.86,193.36 407.93,193.34 408,193.32 408.07,193.31 408.14,193.29 408.21,193.27 408.28,193.25 408.35,193.23 408.41,193.21 408.48,193.2 408.55,193.18 408.62,193.16 408.69,193.14 408.76,193.12 408.82,193.1 408.89,193.09 408.96,193.07 409.03,193.05 409.09,193.03 409.16,193.02 409.23,193 409.29,192.98 409.36,192.96 409.43,192.94 409.49,192.93 409.56,192.91 409.62,192.89 409.69,192.87 409.75,192.86 409.82,192.84 409.88,192.82 409.95,192.81 410.01,192.79 410.08,192.77 410.14,192.75 410.21,192.74 410.27,192.72 410.33,192.7 410.4,192.69 410.46,192.67 410.52,192.65 410.59,192.64 410.65,192.62 410.71,192.6 410.77,192.59 410.84,192.57 410.9,192.55 410.96,192.54 411.02,192.52 411.08,192.5 411.15,192.49 411.21,192.47 411.27,192.46 411.33,192.44 411.39,192.42 411.45,192.41 411.51,192.39 411.57,192.38 411.63,192.36 411.69,192.34 411.75,192.33 411.81,192.31 411.87,192.3 411.93,192.28 411.99,192.26 412.05,192.25 412.11,192.23 412.17,192.22 412.22,192.2 412.28,192.19 412.34,192.17 412.4,192.16 412.46,192.14 412.52,192.12 412.57,192.11 412.63,192.09 412.69,192.08 412.75,192.06 412.8,192.05 412.86,192.03 412.92,192.02 412.97,192 413.03,191.99 413.09,191.97 413.14,191.96 413.2,191.94 413.26,191.93 413.31,191.91 413.37,191.9 413.42,191.88 413.48,191.87 413.53,191.85 413.59,191.84 413.65,191.82 413.7,191.81 413.76,191.79 413.81,191.78 413.86,191.77 413.92,191.75 413.97,191.74 414.03,191.72 414.08,191.71 414.14,191.69 414.19,191.68 414.24,191.66 414.3,191.65 414.35,191.64 414.4,191.62 414.46,191.61 414.51,191.59 414.56,191.58 414.62,191.57 414.67,191.55 414.72,191.54 414.78,191.52 414.83,191.51 414.88,191.5 414.93,191.48 414.98,191.47 415.04,191.45 415.09,191.44 415.14,191.43 415.19,191.41 415.24,191.4 415.3,191.39 415.35,191.37 415.4,191.36 415.45,191.34 415.5,191.33 415.55,191.32 415.6,191.3 415.65,191.29 415.7,191.28 415.75,191.26 415.8,191.25 415.85,191.24 415.9,191.22 415.95,191.21 416,191.2 416.05,191.18 416.1,191.17 416.15,191.16 416.2,191.14 416.25,191.13 416.3,191.12 416.35,191.11 416.4,191.09 416.45,191.08 416.5,191.07 416.55,191.05 416.59,191.04 416.64,191.03 416.69,191.01 416.74,191 416.79,190.99 416.84,190.98 416.88,190.96 416.93,190.95 416.98,190.94 417.03,190.93 417.08,190.91 417.12,190.9 417.17,190.89 417.22,190.87 417.27,190.86 417.31,190.85 417.36,190.84 417.41,190.82 417.45,190.81 417.5,190.8" fill="none" stroke="none" marker-start="url(#mp)" marker-mid="url(#mp)" marker-end="url(#mp)"/>
<polyline points="272.21,236.6 288.41,232.26 297.89,229.72 304.62,227.92 309.83,226.53 314.1,225.38 317.7,224.42 320.82,223.58 323.58,222.85 326.04,222.19 328.27,221.59 330.3,221.05 332.17,220.54 333.91,220.08 335.52,219.65 337.03,219.25 338.44,218.87 339.78,218.51 341.05,218.17 342.24,217.85 343.38,217.54 344.47,217.25 345.51,216.97 346.51,216.71 347.46,216.45 348.38,216.21 349.26,215.97 350.11,215.74 350.93,215.52 351.72,215.31 352.49,215.11 353.23,214.91 353.95,214.71 354.65,214.53 355.33,214.35 355.99,214.17 356.63,214 357.25,213.83 357.86,213.67 358.45,213.51 359.03,213.36 359.59,213.2 360.14,213.06 360.68,212.91 361.2,212.77 361.72,212.63 362.22,212.5 362.71,212.37 363.19,212.24 363.67,212.11 364.13,211.99 364.58,211.87 365.03,211.75 365.47,211.63 365.89,211.52 366.32,211.4 366.73,211.29 367.14,211.18 367.54,211.08 367.93,210.97 368.32,210.87 368.7,210.77 369.07,210.67 369.44,210.57 369.8,210.47 370.16,210.38 370.51,210.28 370.86,210.19 371.2,210.1 371.53,210.01 371.86,209.92 372.19,209.83 372.51,209.74 372.83,209.66 373.15,209.57 373.46,209.49 373.76,209.41 374.06,209.33 374.36,209.25 374.66,209.17 374.95,209.09 375.23,209.02 375.52,208.94 375.8,208.87 376.07,208.79 376.35,208.72 376.62,208.65 376.88,208.57 377.15,208.5 377.41,208.43 377.67,208.36 377.92,208.3 378.18,208.23 378.43,208.16 378.67,208.1 378.92,208.03 379.16,207.96 379.4,207.9 379.64,207.84 379.87,207.77 380.1,207.71 380.34,207.65 380.56,207.59 380.79,207.53 381.01,207.47 381.23,207.41 381.45,207.35 381.67,207.29 381.89,207.23 382.1,207.18 382.31,207.12 382.52,207.06 382.73,207.01 382.94,206.95 383.14,206.9 383.34,206.85 383.54,206.79 383.74,206.74 383.94,206.69 384.13,206.63 384.33,206.58 384.52,206.53 384.71,206.48 384.9,206.43 385.09,206.38 385.28,206.33 385.46,206.28 385.64,206.23 385.83,206.18 386.01,206.13 386.19,206.08 386.36,206.04 386.54,205.99 386.71,205.94 386.89,205.9 387.06,205.85 387.23,205.8 387.4,205.76 387.57,205.71 387.74,205.67 387.91,205.62 388.07,205.58 388.23,205.54 388.4,205.49 388.56,205.45 388.72,205.41 388.88,205.36 389.04,205.32 389.2,205.28 389.35,205.24 389.51,205.19 389.66,205.15 389.81,205.11 389.97,205.07 390.12,205.03 390.27,204.99 390.42,204.95 390.57,204.91 390.71,204.87 390.86,204.83 391.01,204.79 391.15,204.75 391.29,204.72 391.44,204.68 391.58,204.64 391.72,204.6 391.86,204.56 392,204.53 392.14,204.49 392.28,204.45 392.42,204.42 392.55,204.38 392.69,204.34 392.82,204.31 392.96,204.27 393.09,204.24 393.22,204.2 393.35,204.16 393.48,204.13 393.61,204.09 393.74,204.06 393.87,204.03 394,203.99 394.13,203.96 394.25,203.92 394.38,203.89 394.51,203.86 394.63,203.82 394.75,203.79 394.88,203.76 395,203.72 395.12,203.69 395.24,203.66 395.37,203.63 395.49,203.59 395.61,203.56 395.72,203.53 395.84,203.5 395.96,203.47 396.08,203.44 396.19,203.4 396.31,203.37 396.43,203.34 396.54,203.31 396.65,203.28 396.77,203.25 396.88,203.22 396.99,203.19 397.11,203.16 397.22,203.13 397.33,203.1 397.44,203.07 397.55,203.04 397.66,203.01 397.77,202.98 397.88,202.95 397.98,202.92 398.09,202.9 398.2,202.87 398.31,202.84 398.41,202.81 398.52,202.78 398.62,202.75 398.73,202.73 398.83,202.7 398.93,202.67 399.04,202.64 399.14,202.62 399.24,202.59 399.35,202.56 399.45,202.53 399.55,202.51 399.65,202.48 399.75,202.45 399.85,202.43 399.95,202.4 400.05,202.37 400.14,202.35 400.24,202.32 400.34,202.29 400.44,202.27 400.53,202.24 400.63,202.22 400.73,202.19 400.82,202.17 400.92,202.14 401.01,202.11 401.11,202.09 401.2,202.06 401.29,202.04 401.39,202.01 401.48,201.99 401.57,201.96 401.67,201.94 401.76,201.91 401.85,201.89 401.94,201.87 402.03,201.84 402.12,201.82 402.21,201.79 402.3,201.77 402.39,201.75 402.48,201.72 402.57,201.7 402.66,201.67 402.74,201.65 402.83,201.63 402.92,201.6 403.01,201.58 403.09,201.56 403.18,201.53 403.27,201.51 403.35,201.49 403.44,201.46 403.52,201.44 403.61,201.42 403.69,201.4 403.78,201.37 403.86,201.35 403.94,201.33 404.03,201.31 404.11,201.28 404.19,201.26 404.28,201.24 404.36,201.22 404.44,201.2 404.52,201.17 404.6,201.15 404.68,201.13 404.76,201.11 404.85,201.09 404.93,201.07 405.01,201.05 405.08,201.02 405.16,201 405.24,200.98 405.32,200.96 405.4,200.94 405.48,200.92 405.56,200.9 405.63,200.88 405.71,200.86 405.79,200.84 405.87,200.81 405.94,200.79 406.02,200.77 406.1,200.75 406.17,200.73 406.25,200.71 406.32,200.69 406.4,200.67 406.47,200.65 406.55,200.63 406.62,200.61 406.7,200.59 406.77,200.57 406.85,200.55 406.92,200.53 406.99,200.51 407.07,200.49 407.14,200.47 407.21,200.45 407.28,200.44 407.36,200.42 407.43,200.4 407.5,200.38 407.57,200.36 407.64,200.34 407.71,200.32 407.79,200.3 407.86,200.28 407.93,200.26 408,200.24 408.07,200.23 408.14,200.21 408.21,200.19 408.28,200.17 408.35,200.15 408.41,200.13 408.48,200.11 408.55,200.1 408.62,200.08 408.69,200.06 408.76,200.04 408.82,200.02 408.89,200 408.96,199.99 409.03,199.97 409.09,199.95 409.16,199.93 409.23,199.91 409.29,199.9 409.36,199.88 409.43,199.86 409.49,199.84 409.56,199.83 409.62,199.81 409.69,199.79 409.75,199.77 409.82,199.76 409.88,199.74 409.95,199.72 410.01,199.7 410.08,199.69 410.14,199.67 410.21,199.65 410.27,199.64 410.33,199.62 410.4,199.6 410.46,199.58 410.52,199.57 410.59,199.55 410.65,199.53 410.71,199.52 410.77,199.5 410.84,199.48 410.9,199.47 410.96,199.45 411.02,199.43 411.08,199.42 411.15,199.4 411.21,199.38 411.27,199.37 411.33,199.35 411.39,199.34 411.45,199.32 411.51,199.3 411.57,199.29 411.63,199.27 411.69,199.26 411.75,199.24 411.81,199.22 411.87,199.21 411.93,199.19 411.99,199.18 412.05,199.16 412.11,199.14 412.17,199.13 412.22,199.11 412.28,199.1 412.34,199.08 412.4,199.07 412.46,199.05 412.52,199.03 412.57,199.02 412.63,199 412.69,198.99 412.75,198.97 412.8,198.96 412.86,198.94 412.92,198.93 412.97,198.91 413.03,198.9 413.09,198.88 413.14,198.87 413.2,198.85 413.26,198.84 413.31,198.82 413.37,198.81 413.42,198.79 413.48,198.78 413.53,198.76 413.59,198.75 413.65,198.73 413.7,198.72 413.76,198.7 413.81,198.69 413.86,198.67 413.92,198.66 413.97,198.64 414.03,198.63 414.08,198.62 414.14,198.6 414.19,198.59 414.24,198.57 414.3,198.56 414.35,198.54 414.4,198.53 414.46,198.51 414.51,198.5 414.56,198.49 414.62,198.47 414.67,198.46 414.72,198.44 414.78,198.43 414.83,198.42 414.88,198.4 414.93,198.39 414.98,198.37 415.04,198.36 415.09,198.35 415.14,198.33 415.19,198.32 415.24,198.3 415.3,198.29 415.35,198.28 415.4,198.26 415.45,198.25 415.5,198.24 415.55,198.22 415.6,198.21 415.65,198.19 415.7,198.18 415.75,198.17 415.8,198.15 415.85,198.14 415.9,198.13 415.95,198.11 416,198.1 416.05,198.09 416.1,198.07 416.15,198.06 416.2,198.05 416.25,198.03 416.3,198.02 416.35,198.01 416.4,197.99 416.45,197.98 416.5,197.97 416.55,197.96 416.59,197.94 416.64,197.93 416.69,197.92 416.74,197.9 416.79,197.89 416.84,197.88 416.88,197.86 416.93,197.85 416.98,197.84 417.03,197.83 417.08,197.81 417.12,197.8 417.17,197.79 417.22,197.78 417.27,197.76 417.31,197.75 417.36,197.74 417.41,197.73 417.45,197.71 417.5,197.7" fill="none" stroke="none" marker-start="url(#mx)" marker-mid="url(#mx)" marker-end="url(#mx)"/>
<polyline points="272.21,243.9 288.41,239.48 297.89,236.9 304.62,235.07 309.83,233.64 314.1,232.48 317.7,231.5 320.82,230.65 323.58,229.9 326.04,229.23 328.27,228.62 330.3,228.07 332.17,227.56 333.91,227.08 335.52,226.64 337.03,226.23 338.44,225.85 339.78,225.48 341.05,225.14 342.24,224.81 343.38,224.5 344.47,224.2 345.51,223.92 346.51,223.65 347.46,223.39 348.38,223.14 349.26,222.9 350.11,222.67 350.93,222.44 351.72,222.23 352.49,222.02 353.23,221.82 353.95,221.62 354.65,221.43 355.33,221.25 355.99,221.07 356.63,220.89 357.25,220.72 357.86,220.56 358.45,220.39 359.03,220.24 359.59,220.08 360.14,219.93 360.68,219.79 361.2,219.64 361.72,219.5 362.22,219.37 362.71,219.23 363.19,219.1 363.67,218.97 364.13,218.85 364.58,218.72 365.03,218.6 365.47,218.48 365.89,218.36 366.32,218.25 366.73,218.14 367.14,218.03 367.54,217.92 367.93,217.81 368.32,217.71 368.7,217.6 369.07,217.5 369.44,217.4 369.8,217.3 370.16,217.2 370.51,217.11 370.86,217.01 371.2,216.92 371.53,216.83 371.86,216.74 372.19,216.65 372.51,216.56 372.83,216.47 373.15,216.39 373.46,216.3 373.76,216.22 374.06,216.14 374.36,216.06 374.66,215.98 374.95,215.9 375.23,215.82 375.52,215.74 375.8,215.67 376.07,215.59 376.35,215.52 376.62,215.44 376.88,215.37 377.15,215.3 377.41,215.23 377.67,215.16 377.92,215.09 378.18,215.02 378.43,214.95 378.67,214.88 378.92,214.82 379.16,214.75 379.4,214.68 379.64,214.62 379.87,214.56 380.1,214.49 380.34,214.43 380.56,214.37 380.79,214.31 381.01,214.24 381.23,214.18 381.45,214.12 381.67,214.07 381.89,214.01 382.1,213.95 382.31,213.89 382.52,213.83 382.73,213.78 382.94,213.72 383.14,213.66 383.34,213.61 383.54,213.56 383.74,213.5 383.94,213.45 384.13,213.39 384.33,213.34 384.52,213.29 384.71,213.24 384.9,213.18 385.09,213.13 385.28,213.08 385.46,213.03 385.64,212.98 385.83,212.93 386.01,212.88 386.19,212.83 386.36,212.79 386.54,212.74 386.71,212.69 386.89,212.64 387.06,212.6 387.23,212.55 387.4,212.5 387.57,212.46 387.74,212.41 387.91,212.37 388.07,212.32 388.23,212.28 388.4,212.23 388.56,212.19 388.72,212.14 388.88,212.1 389.04,212.06 389.2,212.01 389.35,211.97 389.51,211.93 389.66,211.89 389.81,211.85 389.97,211.8 390.12,211.76 390.27,211.72 390.42,211.68 390.57,211.64 390.71,211.6 390.86,211.56 391.01,211.52 391.15,211.48 391.29,211.44 391.44,211.4 391.58,211.36 391.72,211.33 391.86,211.29 392,211.25 392.14,211.21 392.28,211.17 392.42,211.14 392.55,211.1 392.69,211.06 392.82,211.03 392.96,210.99 393.09,210.95 393.22,210.92 393.35,210.88 393.48,210.85 393.61,210.81 393.74,210.77 393.87,210.74 394,210.7 394.13,210.67 394.25,210.64 394.38,210.6 394.51,210.57 394.63,210.53 394.75,210.5 394.88,210.47 395,210.43 395.12,210.4 395.24,210.37 395.37,210.33 395.49,210.3 395.61,210.27 395.72,210.23 395.84,210.2 395.96,210.17 396.08,210.14 396.19,210.11 396.31,210.08 396.43,210.04 396.54,210.01 396.65,209.98 396.77,209.95 396.88,209.92 396.99,209.89 397.11,209.86 397.22,209.83 397.33,209.8 397.44,209.77 397.55,209.74 397.66,209.71 397.77,209.68 397.88,209.65 397.98,209.62 398.09,209.59 398.2,209.56 398.31,209.53 398.41,209.5 398.52,209.47 398.62,209.45 398.73,209.42 398.83,209.39 398.93,209.36 399.04,209.33 399.14,209.3 399.24,209.28 399.35,209.25 399.45,209.22 399.55,209.19 399.65,209.17 399.75,209.14 399.85,209.11 399.95,209.08 400.05,209.06 400.14,209.03 400.24,209 400.34,208.98 400.44,208.95 400.53,208.92 400.63,208.9 400.73,208.87 400.82,208.85 400.92,208.82 401.01,208.79 401.11,208.77 401.2,208.74 401.29,208.72 401.39,208.69 401.48,208.67 401.57,208.64 401.67,208.62 401.76,208.59 401.85,208.57 401.94,208.54 402.03,208.52 402.12,208.49 402.21,208.47 402.3,208.44 402.39,208.42 402.48,208.39 402.57,208.37 402.66,208.35 402.74,208.32 402.83,208.3 402.92,208.27 403.01,208.25 403.09,208.23 403.18,208.2 403.27,208.18 403.35,208.16 403.44,208.13 403.52,208.11 403.61,208.09 403.69,208.06 403.78,208.04 403.86,208.02 403.94,207.99 404.03,207.97 404.11,207.95 404.19,207.93 404.28,207.9 404.36,207.88 404.44,207.86 404.52,207.84 404.6,207.82 404.68,207.79 404.76,207.77 404.85,207.75 404.93,207.73 405.01,207.71 405.08,207.68 405.16,207.66 405.24,207.64 405.32,207.62 405.4,207.6 405.48,207.58 405.56,207.56 405.63,207.53 405.71,207.51 405.79,207.49 405.87,207.47 405.94,207.45 406.02,207.43 406.1,207.41 406.17,207.39 406.25,207.37 406.32,207.35 406.4,207.33 406.47,207.31 406.55,207.28 406.62,207.26 406.7,207.24 406.77,207.22 406.85,207.2 406.92,207.18 406.99,207.16 407.07,207.14 407.14,207.12 407.21,207.1 407.28,207.08 407.36,207.06 407.43,207.04 407.5,207.03 407.57,207.01 407.64,206.99 407.71,206.97 407.79,206.95 407.86,206.93 407.93,206.91 408,206.89 408.07,206.87 408.14,206.85 408.21,206.83 408.28,206.81 408.35,206.8 408.41,206.78 408.48,206.76 408.55,206.74 408.62,206.72 408.69,206.7 408.76,206.68 408.82,206.66 408.89,206.65 408.96,206.63 409.03,206.61 409.09,206.59 409.16,206.57 409.23,206.55 409.29,206.54 409.36,206.52 409.43,206.5 409.49,206.48 409.56,206.46 409.62,206.45 409.69,206.43 409.75,206.41 409.82,206.39 409.88,206.38 409.95,206.36 410.01,206.34 410.08,206.32 410.14,206.31 410.21,206.29 410.27,206.27 410.33,206.25 410.4,206.24 410.46,206.22 410.52,206.2 410.59,206.18 410.65,206.17 410.71,206.15 410.77,206.13 410.84,206.12 410.9,206.1 410.96,206.08 411.02,206.07 411.08,206.05 411.15,206.03 411.21,206.02 411.27,206 411.33,205.98 411.39,205.97 411.45,205.95 411.51,205.93 411.57,205.92 411.63,205.9 411.69,205.88 411.75,205.87 411.81,205.85 411.87,205.83 411.93,205.82 411.99,205.8 412.05,205.79 412.11,205.77 412.17,205.75 412.22,205.74 412.28,205.72 412.34,205.71 412.4,205.69 412.46,205.67 412.52,205.66 412.57,205.64 412.63,205.63 412.69,205.61 412.75,205.6 412.8,205.58 412.86,205.56 412.92,205.55 412.97,205.53 413.03,205.52 413.09,205.5 413.14,205.49 413.2,205.47 413.26,205.46 413.31,205.44 413.37,205.43 413.42,205.41 413.48,205.4 413.53,205.38 413.59,205.37 413.65,205.35 413.7,205.34 413.76,205.32 413.81,205.31 413.86,205.29 413.92,205.28 413.97,205.26 414.03,205.25 414.08,205.23 414.14,205.22 414.19,205.2 414.24,205.19 414.3,205.17 414.35,205.16 414.4,205.14 414.46,205.13 414.51,205.11 414.56,205.1 414.62,205.09 414.67,205.07 414.72,205.06 414.78,205.04 414.83,205.03 414.88,205.01 414.93,205 414.98,204.99 415.04,204.97 415.09,204.96 415.14,204.94 415.19,204.93 415.24,204.91 415.3,204.9 415.35,204.89 415.4,204.87 415.45,204.86 415.5,204.85 415.55,204.83 415.6,204.82 415.65,204.8 415.7,204.79 415.75,204.78 415.8,204.76 415.85,204.75 415.9,204.74 415.95,204.72 416,204.71 416.05,204.69 416.1,204.68 416.15,204.67 416.2,204.65 416.25,204.64 416.3,204.63 416.35,204.61 416.4,204.6 416.45,204.59 416.5,204.57 416.55,204.56 416.59,204.55 416.64,204.53 416.69,204.52 416.74,204.51 416.79,204.49 416.84,204.48 416.88,204.47 416.93,204.45 416.98,204.44 417.03,204.43 417.08,204.42 417.12,204.4 417.17,204.39 417.22,204.38 417.27,204.36 417.31,204.35 417.36,204.34 417.41,204.33 417.45,204.31 417.5,204.3" fill="none" stroke="none" marker-start="url(#mo)" marker-mid="url(#mo)" marker-end="url(#mo)"/>
<polyline points="272.21,254 288.41,249.62 297.89,247.05 304.62,245.23 309.83,243.82 314.1,242.67 317.7,241.69 320.82,240.85 323.58,240.11 326.04,239.44 328.27,238.84 330.3,238.29 332.17,237.78 333.91,237.31 335.52,236.87 337.03,236.47 338.44,236.08 339.78,235.72 341.05,235.38 342.24,235.06 343.38,234.75 344.47,234.45 345.51,234.17 346.51,233.9 347.46,233.64 348.38,233.4 349.26,233.16 350.11,232.93 350.93,232.71 351.72,232.49 352.49,232.28 353.23,232.08 353.95,231.89 354.65,231.7 355.33,231.52 355.99,231.34 356.63,231.17 357.25,231 357.86,230.83 358.45,230.67 359.03,230.52 359.59,230.36 360.14,230.21 360.68,230.07 361.2,229.93 361.72,229.79 362.22,229.65 362.71,229.52 363.19,229.39 363.67,229.26 364.13,229.14 364.58,229.01 365.03,228.89 365.47,228.77 365.89,228.66 366.32,228.54 366.73,228.43 367.14,228.32 367.54,228.21 367.93,228.11 368.32,228 368.7,227.9 369.07,227.8 369.44,227.7 369.8,227.6 370.16,227.51 370.51,227.41 370.86,227.32 371.2,227.22 371.53,227.13 371.86,227.04 372.19,226.96 372.51,226.87 372.83,226.78 373.15,226.7 373.46,226.61 373.76,226.53 374.06,226.45 374.36,226.37 374.66,226.29 374.95,226.21 375.23,226.13 375.52,226.06 375.8,225.98 376.07,225.91 376.35,225.83 376.62,225.76 376.88,225.69 377.15,225.61 377.41,225.54 377.67,225.47 377.92,225.41 378.18,225.34 378.43,225.27 378.67,225.2 378.92,225.14 379.16,225.07 379.4,225.01 379.64,224.94 379.87,224.88 380.1,224.81 380.34,224.75 380.56,224.69 380.79,224.63 381.01,224.57 381.23,224.51 381.45,224.45 381.67,224.39 381.89,224.33 382.1,224.28 382.31,224.22 382.52,224.16 382.73,224.1 382.94,224.05 383.14,223.99 383.34,223.94 383.54,223.88 383.74,223.83 383.94,223.78 384.13,223.72 384.33,223.67 384.52,223.62 384.71,223.57 384.9,223.52 385.09,223.47 385.28,223.42 385.46,223.37 385.64,223.32 385.83,223.27 386.01,223.22 386.19,223.17 386.36,223.12 386.54,223.07 386.71,223.03 386.89,222.98 387.06,222.93 387.23,222.89 387.4,222.84 387.57,222.8 387.74,222.75 387.91,222.7 388.07,222.66 388.23,222.62 388.4,222.57 388.56,222.53 388.72,222.48 388.88,222.44 389.04,222.4 389.2,222.36 389.35,222.31 389.51,222.27 389.66,222.23 389.81,222.19 389.97,222.15 390.12,222.11 390.27,222.07 390.42,222.03 390.57,221.99 390.71,221.95 390.86,221.91 391.01,221.87 391.15,221.83 391.29,221.79 391.44,221.75 391.58,221.71 391.72,221.67 391.86,221.63 392,221.6 392.14,221.56 392.28,221.52 392.42,221.49 392.55,221.45 392.69,221.41 392.82,221.38 392.96,221.34 393.09,221.3 393.22,221.27 393.35,221.23 393.48,221.2 393.61,221.16 393.74,221.13 393.87,221.09 394,221.06 394.13,221.02 394.25,220.99 394.38,220.95 394.51,220.92 394.63,220.89 394.75,220.85 394.88,220.82 395,220.79 395.12,220.75 395.24,220.72 395.37,220.69 395.49,220.65 395.61,220.62 395.72,220.59 395.84,220.56 395.96,220.53 396.08,220.49 396.19,220.46 396.31,220.43 396.43,220.4 396.54,220.37 396.65,220.34 396.77,220.31 396.88,220.28 396.99,220.25 397.11,220.22 397.22,220.19 397.33,220.16 397.44,220.13 397.55,220.1 397.66,220.07 397.77,220.04 397.88,220.01 397.98,219.98 398.09,219.95 398.2,219.92 398.31,219.89 398.41,219.86 398.52,219.83 398.62,219.81 398.73,219.78 398.83,219.75 398.93,219.72 399.04,219.69 399.14,219.67 399.24,219.64 399.35,219.61 399.45,219.58 399.55,219.56 399.65,219.53 399.75,219.5 399.85,219.47 399.95,219.45 400.05,219.42 400.14,219.39 400.24,219.37 400.34,219.34 400.44,219.32 400.53,219.29 400.63,219.26 400.73,219.24 400.82,219.21 400.92,219.19 401.01,219.16 401.11,219.13 401.2,219.11 401.29,219.08 401.39,219.06 401.48,219.03 401.57,219.01 401.67,218.98 401.76,218.96 401.85,218.93 401.94,218.91 402.03,218.88 402.12,218.86 402.21,218.84 402.3,218.81 402.39,218.79 402.48,218.76 402.57,218.74 402.66,218.71 402.74,218.69 402.83,218.67 402.92,218.64 403.01,218.62 403.09,218.6 403.18,218.57 403.27,218.55 403.35,218.53 403.44,218.5 403.52,218.48 403.61,218.46 403.69,218.43 403.78,218.41 403.86,218.39 403.94,218.37 404.03,218.34 404.11,218.32 404.19,218.3 404.28,218.28 404.36,218.25 404.44,218.23 404.52,218.21 404.6,218.19 404.68,218.17 404.76,218.14 404.85,218.12 404.93,218.1 405.01,218.08 405.08,218.06 405.16,218.04 405.24,218.02 405.32,217.99 405.4,217.97 405.48,217.95 405.56,217.93 405.63,217.91 405.71,217.89 405.79,217.87 405.87,217.85 405.94,217.83 406.02,217.81 406.1,217.78 406.17,217.76 406.25,217.74 406.32,217.72 406.4,217.7 406.47,217.68 406.55,217.66 406.62,217.64 406.7,217.62 406.77,217.6 406.85,217.58 406.92,217.56 406.99,217.54 407.07,217.52 407.14,217.5 407.21,217.48 407.28,217.46 407.36,217.44 407.43,217.42 407.5,217.4 407.57,217.39 407.64,217.37 407.71,217.35 407.79,217.33 407.86,217.31 407.93,217.29 408,217.27 408.07,217.25 408.14,217.23 408.21,217.21 408.28,217.19 408.35,217.18 408.41,217.16 408.48,217.14 408.55,217.12 408.62,217.1 408.69,217.08 408.76,217.06 408.82,217.05 408.89,217.03 408.96,217.01 409.03,216.99 409.09,216.97 409.16,216.96 409.23,216.94 409.29,216.92 409.36,216.9 409.43,216.88 409.49,216.87 409.56,216.85 409.62,216.83 409.69,216.81 409.75,216.79 409.82,216.78 409.88,216.76 409.95,216.74 410.01,216.72 410.08,216.71 410.14,216.69 410.21,216.67 410.27,216.66 410.33,216.64 410.4,216.62 410.46,216.6 410.52,216.59 410.59,216.57 410.65,216.55 410.71,216.54 410.77,216.52 410.84,216.5 410.9,216.49 410.96,216.47 411.02,216.45 411.08,216.44 411.15,216.42 411.21,216.4 411.27,216.39 411.33,216.37 411.39,216.35 411.45,216.34 411.51,216.32 411.57,216.3 411.63,216.29 411.69,216.27 411.75,216.26 411.81,216.24 411.87,216.22 411.93,216.21 411.99,216.19 412.05,216.17 412.11,216.16 412.17,216.14 412.22,216.13 412.28,216.11 412.34,216.1 412.4,216.08 412.46,216.06 412.52,216.05 412.57,216.03 412.63,216.02 412.69,216 412.75,215.99 412.8,215.97 412.86,215.95 412.92,215.94 412.97,215.92 413.03,215.91 413.09,215.89 413.14,215.88 413.2,215.86 413.26,215.85 413.31,215.83 413.37,215.82 413.42,215.8 413.48,215.79 413.53,215.77 413.59,215.76 413.65,215.74 413.7,215.73 413.76,215.71 413.81,215.7 413.86,215.68 413.92,215.67 413.97,215.65 414.03,215.64 414.08,215.62 414.14,215.61 414.19,215.6 414.24,215.58 414.3,215.57 414.35,215.55 414.4,215.54 414.46,215.52 414.51,215.51 414.56,215.49 414.62,215.48 414.67,215.47 414.72,215.45 414.78,215.44 414.83,215.42 414.88,215.41 414.93,215.39 414.98,215.38 415.04,215.37 415.09,215.35 415.14,215.34 415.19,215.32 415.24,215.31 415.3,215.3 415.35,215.28 415.4,215.27 415.45,215.25 415.5,215.24 415.55,215.23 415.6,215.21 415.65,215.2 415.7,215.19 415.75,215.17 415.8,215.16 415.85,215.15 415.9,215.13 415.95,215.12 416,215.1 416.05,215.09 416.1,215.08 416.15,215.06 416.2,215.05 416.25,215.04 416.3,215.02 416.35,215.01 416.4,215 416.45,214.98 416.5,214.97 416.55,214.96 416.59,214.94 416.64,214.93 416.69,214.92 416.74,214.91 416.79,214.89 416.84,214.88 416.88,214.87 416.93,214.85 416.98,214.84 417.03,214.83 417.08,214.81 417.12,214.8 417.17,214.79 417.22,214.78 417.27,214.76 417.31,214.75 417.36,214.74 417.41,214.73 417.45,214.71 417.5,214.7" fill="none" stroke="none" marker-start="url(#ms)" marker-mid="url(#ms)" marker-end="url(#ms)"/>
<path d="M272.21 234.4L417.5 194.4" stroke="#000" stroke-width="0.9" fill="none"/>
<rect x="256" y="165.6" width="161.5" height="117.5" stroke="#000" stroke-width="1.0" fill="none"/>
<text x="250.3" y="287.5" text-anchor="end" font-size="11.1">10<tspan dy="-5.2" font-size="8.7">-1</tspan></text>
<text x="250.3" y="258.12" text-anchor="end" font-size="11.1">10<tspan dy="-5.2" font-size="8.7">0</tspan></text>
<text x="250.3" y="228.75" text-anchor="end" font-size="11.1">10<tspan dy="-5.2" font-size="8.7">1</tspan></text>
<text x="250.3" y="199.38" text-anchor="end" font-size="11.1">10<tspan dy="-5.2" font-size="8.7">2</tspan></text>
<text x="250.3" y="170" text-anchor="end" font-size="11.1">10<tspan dy="-5.2" font-size="8.7">3</tspan></text>
<text x="256" y="298.9" text-anchor="middle" font-size="11.1">10<tspan dy="-5.2" font-size="8.7">1</tspan></text>
<text x="309.83" y="298.9" text-anchor="middle" font-size="11.1">10<tspan dy="-5.2" font-size="8.7">2</tspan></text>
<text x="363.67" y="298.9" text-anchor="middle" font-size="11.1">10<tspan dy="-5.2" font-size="8.7">3</tspan></text>
<text x="417.5" y="298.9" text-anchor="middle" font-size="11.1">10<tspan dy="-5.2" font-size="8.7">4</tspan></text>
<text x="337.05" y="306.2" text-anchor="middle" font-size="11.2" font-weight="bold" style="stroke:none">t</text>
<text x="261.7" y="177.2" font-size="10.6" letter-spacing="0.2" style="stroke-width:0.4px">ν=0.8 α=1.6</text>
<text transform="translate(220.6 224.35) rotate(-90)" font-size="12.6" x="-5.1" y="0" style="stroke-width:0.3px">q<tspan dy="3" font-size="3.3" letter-spacing="0.35" style="stroke-width:0.25px">max</tspan></text>
</g>
</svg>
</body></html>
